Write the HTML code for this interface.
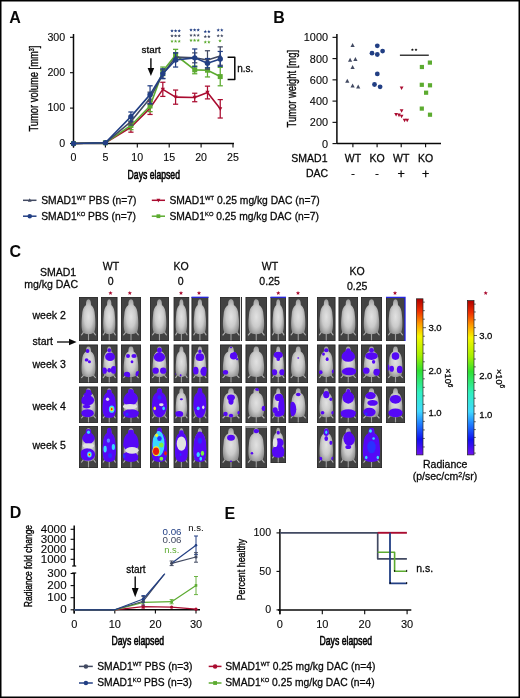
<!DOCTYPE html><html><head><meta charset="utf-8"><style>html,body{margin:0;padding:0;background:#fff;}svg{display:block;will-change:transform;}</style></head><body>
<svg width="520" height="698" viewBox="0 0 520 698" font-family="Liberation Sans, sans-serif">
<rect x="0" y="0" width="520" height="698" fill="#fff"/>
<text x="9.2" y="22.8" font-size="16" text-anchor="start" fill="#080808" font-weight="bold">A</text>
<text x="273.2" y="23.1" font-size="16" text-anchor="start" fill="#080808" font-weight="bold">B</text>
<text x="9.5" y="257.4" font-size="16" text-anchor="start" fill="#080808" font-weight="bold">C</text>
<text x="9.8" y="518.2" font-size="16" text-anchor="start" fill="#080808" font-weight="bold">D</text>
<text x="224.6" y="518.9" font-size="16" text-anchor="start" fill="#080808" font-weight="bold">E</text>
<line x1="73.5" y1="34" x2="73.5" y2="147.5" stroke="#080808" stroke-width="1.5"/>
<line x1="73.5" y1="143.5" x2="234" y2="143.5" stroke="#080808" stroke-width="1.5"/>
<line x1="70" y1="143.5" x2="73.5" y2="143.5" stroke="#080808" stroke-width="1.1"/>
<text transform="translate(65.20,146.75) scale(1.035,1)" font-size="10.3" text-anchor="end" fill="#080808" stroke="#080808" stroke-width="0.1">0</text>
<line x1="70" y1="108.1" x2="73.5" y2="108.1" stroke="#080808" stroke-width="1.1"/>
<text transform="translate(65.20,111.35) scale(1.035,1)" font-size="10.3" text-anchor="end" fill="#080808" stroke="#080808" stroke-width="0.1">100</text>
<line x1="70" y1="72.7" x2="73.5" y2="72.7" stroke="#080808" stroke-width="1.1"/>
<text transform="translate(65.20,75.95) scale(1.035,1)" font-size="10.3" text-anchor="end" fill="#080808" stroke="#080808" stroke-width="0.1">200</text>
<line x1="70" y1="37.30000000000001" x2="73.5" y2="37.30000000000001" stroke="#080808" stroke-width="1.1"/>
<text transform="translate(65.20,40.55) scale(1.035,1)" font-size="10.3" text-anchor="end" fill="#080808" stroke="#080808" stroke-width="0.1">300</text>
<line x1="73.5" y1="143.5" x2="73.5" y2="147.5" stroke="#080808" stroke-width="1.1"/>
<text transform="translate(73.50,161.45) scale(1.035,1)" font-size="10.3" text-anchor="middle" fill="#080808" stroke="#080808" stroke-width="0.1">0</text>
<line x1="105.4" y1="143.5" x2="105.4" y2="147.5" stroke="#080808" stroke-width="1.1"/>
<text transform="translate(105.40,161.45) scale(1.035,1)" font-size="10.3" text-anchor="middle" fill="#080808" stroke="#080808" stroke-width="0.1">5</text>
<line x1="137.3" y1="143.5" x2="137.3" y2="147.5" stroke="#080808" stroke-width="1.1"/>
<text transform="translate(137.30,161.45) scale(1.035,1)" font-size="10.3" text-anchor="middle" fill="#080808" stroke="#080808" stroke-width="0.1">10</text>
<line x1="169.2" y1="143.5" x2="169.2" y2="147.5" stroke="#080808" stroke-width="1.1"/>
<text transform="translate(169.20,161.45) scale(1.035,1)" font-size="10.3" text-anchor="middle" fill="#080808" stroke="#080808" stroke-width="0.1">15</text>
<line x1="201.1" y1="143.5" x2="201.1" y2="147.5" stroke="#080808" stroke-width="1.1"/>
<text transform="translate(201.10,161.45) scale(1.035,1)" font-size="10.3" text-anchor="middle" fill="#080808" stroke="#080808" stroke-width="0.1">20</text>
<line x1="233.0" y1="143.5" x2="233.0" y2="147.5" stroke="#080808" stroke-width="1.1"/>
<text transform="translate(233.00,161.45) scale(1.035,1)" font-size="10.3" text-anchor="middle" fill="#080808" stroke="#080808" stroke-width="0.1">25</text>
<text x="127.6" y="178.9" font-size="12.4" text-anchor="start" fill="#080808" textLength="52.4" lengthAdjust="spacingAndGlyphs" stroke="#000" stroke-width="0.6">Days elapsed</text>
<text transform="translate(38.3,131.5) rotate(-90)" font-size="12.4" fill="#080808" stroke="#000" stroke-width="0.35" textLength="85.8" lengthAdjust="spacingAndGlyphs">Tumor volume [mm<tspan font-size="7" dy="-4">3</tspan><tspan dy="4">]</tspan></text>
<line x1="130.92000000000002" y1="122.26" x2="130.92000000000002" y2="132.172" stroke="#aa0c30" stroke-width="1.25"/>
<line x1="128.32000000000002" y1="122.26" x2="133.52" y2="122.26" stroke="#aa0c30" stroke-width="1.25"/>
<line x1="128.32000000000002" y1="132.172" x2="133.52" y2="132.172" stroke="#aa0c30" stroke-width="1.25"/>
<line x1="150.06" y1="101.72800000000001" x2="150.06" y2="114.47200000000001" stroke="#aa0c30" stroke-width="1.25"/>
<line x1="147.46" y1="101.72800000000001" x2="152.66" y2="101.72800000000001" stroke="#aa0c30" stroke-width="1.25"/>
<line x1="147.46" y1="114.47200000000001" x2="152.66" y2="114.47200000000001" stroke="#aa0c30" stroke-width="1.25"/>
<line x1="162.82" y1="82.25800000000001" x2="162.82" y2="96.418" stroke="#aa0c30" stroke-width="1.25"/>
<line x1="160.22" y1="82.25800000000001" x2="165.42" y2="82.25800000000001" stroke="#aa0c30" stroke-width="1.25"/>
<line x1="160.22" y1="96.418" x2="165.42" y2="96.418" stroke="#aa0c30" stroke-width="1.25"/>
<line x1="175.57999999999998" y1="90.04599999999999" x2="175.57999999999998" y2="104.206" stroke="#aa0c30" stroke-width="1.25"/>
<line x1="172.98" y1="90.04599999999999" x2="178.17999999999998" y2="90.04599999999999" stroke="#aa0c30" stroke-width="1.25"/>
<line x1="172.98" y1="104.206" x2="178.17999999999998" y2="104.206" stroke="#aa0c30" stroke-width="1.25"/>
<line x1="194.72" y1="93.232" x2="194.72" y2="101.72800000000001" stroke="#aa0c30" stroke-width="1.25"/>
<line x1="192.12" y1="93.232" x2="197.32" y2="93.232" stroke="#aa0c30" stroke-width="1.25"/>
<line x1="192.12" y1="101.72800000000001" x2="197.32" y2="101.72800000000001" stroke="#aa0c30" stroke-width="1.25"/>
<line x1="207.48" y1="86.152" x2="207.48" y2="98.896" stroke="#aa0c30" stroke-width="1.25"/>
<line x1="204.88" y1="86.152" x2="210.07999999999998" y2="86.152" stroke="#aa0c30" stroke-width="1.25"/>
<line x1="204.88" y1="98.896" x2="210.07999999999998" y2="98.896" stroke="#aa0c30" stroke-width="1.25"/>
<line x1="220.24" y1="99.604" x2="220.24" y2="118.012" stroke="#aa0c30" stroke-width="1.25"/>
<line x1="217.64000000000001" y1="99.604" x2="222.84" y2="99.604" stroke="#aa0c30" stroke-width="1.25"/>
<line x1="217.64000000000001" y1="118.012" x2="222.84" y2="118.012" stroke="#aa0c30" stroke-width="1.25"/>
<polyline points="73.50,143.50 105.40,142.79 130.92,127.22 150.06,108.10 162.82,89.34 175.58,97.13 194.72,97.48 207.48,92.52 220.24,108.81" fill="none" stroke="#aa0c30" stroke-width="1.6" stroke-linejoin="round"/>
<polygon points="73.50,145.81 71.40,141.82 75.60,141.82" fill="#aa0c30"/>
<polygon points="105.40,145.10 103.30,141.11 107.50,141.11" fill="#aa0c30"/>
<polygon points="130.92,129.53 128.82,125.54 133.02,125.54" fill="#aa0c30"/>
<polygon points="150.06,110.41 147.96,106.42 152.16,106.42" fill="#aa0c30"/>
<polygon points="162.82,91.65 160.72,87.66 164.92,87.66" fill="#aa0c30"/>
<polygon points="175.58,99.44 173.48,95.45 177.68,95.45" fill="#aa0c30"/>
<polygon points="194.72,99.79 192.62,95.80 196.82,95.80" fill="#aa0c30"/>
<polygon points="207.48,94.83 205.38,90.84 209.58,90.84" fill="#aa0c30"/>
<polygon points="220.24,111.12 218.14,107.13 222.34,107.13" fill="#aa0c30"/>
<line x1="130.92000000000002" y1="121.19800000000001" x2="130.92000000000002" y2="129.694" stroke="#5cab30" stroke-width="1.25"/>
<line x1="128.32000000000002" y1="121.19800000000001" x2="133.52" y2="121.19800000000001" stroke="#5cab30" stroke-width="1.25"/>
<line x1="128.32000000000002" y1="129.694" x2="133.52" y2="129.694" stroke="#5cab30" stroke-width="1.25"/>
<line x1="150.06" y1="100.31200000000001" x2="150.06" y2="111.64" stroke="#5cab30" stroke-width="1.25"/>
<line x1="147.46" y1="100.31200000000001" x2="152.66" y2="100.31200000000001" stroke="#5cab30" stroke-width="1.25"/>
<line x1="147.46" y1="111.64" x2="152.66" y2="111.64" stroke="#5cab30" stroke-width="1.25"/>
<line x1="162.82" y1="67.036" x2="162.82" y2="75.53200000000001" stroke="#5cab30" stroke-width="1.25"/>
<line x1="160.22" y1="67.036" x2="165.42" y2="67.036" stroke="#5cab30" stroke-width="1.25"/>
<line x1="160.22" y1="75.53200000000001" x2="165.42" y2="75.53200000000001" stroke="#5cab30" stroke-width="1.25"/>
<line x1="175.57999999999998" y1="49.336" x2="175.57999999999998" y2="60.664" stroke="#5cab30" stroke-width="1.25"/>
<line x1="172.98" y1="49.336" x2="178.17999999999998" y2="49.336" stroke="#5cab30" stroke-width="1.25"/>
<line x1="172.98" y1="60.664" x2="178.17999999999998" y2="60.664" stroke="#5cab30" stroke-width="1.25"/>
<line x1="194.72" y1="65.974" x2="194.72" y2="73.762" stroke="#5cab30" stroke-width="1.25"/>
<line x1="192.12" y1="65.974" x2="197.32" y2="65.974" stroke="#5cab30" stroke-width="1.25"/>
<line x1="192.12" y1="73.762" x2="197.32" y2="73.762" stroke="#5cab30" stroke-width="1.25"/>
<line x1="207.48" y1="63.49600000000001" x2="207.48" y2="76.94800000000001" stroke="#5cab30" stroke-width="1.25"/>
<line x1="204.88" y1="63.49600000000001" x2="210.07999999999998" y2="63.49600000000001" stroke="#5cab30" stroke-width="1.25"/>
<line x1="204.88" y1="76.94800000000001" x2="210.07999999999998" y2="76.94800000000001" stroke="#5cab30" stroke-width="1.25"/>
<line x1="220.24" y1="67.39" x2="220.24" y2="85.798" stroke="#5cab30" stroke-width="1.25"/>
<line x1="217.64000000000001" y1="67.39" x2="222.84" y2="67.39" stroke="#5cab30" stroke-width="1.25"/>
<line x1="217.64000000000001" y1="85.798" x2="222.84" y2="85.798" stroke="#5cab30" stroke-width="1.25"/>
<polyline points="73.50,143.50 105.40,142.79 130.92,125.45 150.06,105.98 162.82,71.28 175.58,55.00 194.72,69.87 207.48,70.22 220.24,76.59" fill="none" stroke="#5cab30" stroke-width="1.6" stroke-linejoin="round"/>
<rect x="71.00" y="141.00" width="5.00" height="5.00" fill="#5cab30"/>
<rect x="102.90" y="140.29" width="5.00" height="5.00" fill="#5cab30"/>
<rect x="128.42" y="122.95" width="5.00" height="5.00" fill="#5cab30"/>
<rect x="147.56" y="103.48" width="5.00" height="5.00" fill="#5cab30"/>
<rect x="160.32" y="68.78" width="5.00" height="5.00" fill="#5cab30"/>
<rect x="173.08" y="52.50" width="5.00" height="5.00" fill="#5cab30"/>
<rect x="192.22" y="67.37" width="5.00" height="5.00" fill="#5cab30"/>
<rect x="204.98" y="67.72" width="5.00" height="5.00" fill="#5cab30"/>
<rect x="217.74" y="74.09" width="5.00" height="5.00" fill="#5cab30"/>
<line x1="130.92000000000002" y1="118.012" x2="130.92000000000002" y2="125.092" stroke="#424a62" stroke-width="1.25"/>
<line x1="128.32000000000002" y1="118.012" x2="133.52" y2="118.012" stroke="#424a62" stroke-width="1.25"/>
<line x1="128.32000000000002" y1="125.092" x2="133.52" y2="125.092" stroke="#424a62" stroke-width="1.25"/>
<line x1="150.06" y1="92.17" x2="150.06" y2="104.206" stroke="#424a62" stroke-width="1.25"/>
<line x1="147.46" y1="92.17" x2="152.66" y2="92.17" stroke="#424a62" stroke-width="1.25"/>
<line x1="147.46" y1="104.206" x2="152.66" y2="104.206" stroke="#424a62" stroke-width="1.25"/>
<line x1="162.82" y1="69.86800000000001" x2="162.82" y2="78.364" stroke="#424a62" stroke-width="1.25"/>
<line x1="160.22" y1="69.86800000000001" x2="165.42" y2="69.86800000000001" stroke="#424a62" stroke-width="1.25"/>
<line x1="160.22" y1="78.364" x2="165.42" y2="78.364" stroke="#424a62" stroke-width="1.25"/>
<line x1="175.57999999999998" y1="52.876000000000005" x2="175.57999999999998" y2="61.372" stroke="#424a62" stroke-width="1.25"/>
<line x1="172.98" y1="52.876000000000005" x2="178.17999999999998" y2="52.876000000000005" stroke="#424a62" stroke-width="1.25"/>
<line x1="172.98" y1="61.372" x2="178.17999999999998" y2="61.372" stroke="#424a62" stroke-width="1.25"/>
<line x1="194.72" y1="52.876000000000005" x2="194.72" y2="62.78800000000001" stroke="#424a62" stroke-width="1.25"/>
<line x1="192.12" y1="52.876000000000005" x2="197.32" y2="52.876000000000005" stroke="#424a62" stroke-width="1.25"/>
<line x1="192.12" y1="62.78800000000001" x2="197.32" y2="62.78800000000001" stroke="#424a62" stroke-width="1.25"/>
<line x1="207.48" y1="50.75200000000001" x2="207.48" y2="69.16000000000001" stroke="#424a62" stroke-width="1.25"/>
<line x1="204.88" y1="50.75200000000001" x2="210.07999999999998" y2="50.75200000000001" stroke="#424a62" stroke-width="1.25"/>
<line x1="204.88" y1="69.16000000000001" x2="210.07999999999998" y2="69.16000000000001" stroke="#424a62" stroke-width="1.25"/>
<line x1="220.24" y1="46.858000000000004" x2="220.24" y2="65.266" stroke="#424a62" stroke-width="1.25"/>
<line x1="217.64000000000001" y1="46.858000000000004" x2="222.84" y2="46.858000000000004" stroke="#424a62" stroke-width="1.25"/>
<line x1="217.64000000000001" y1="65.266" x2="222.84" y2="65.266" stroke="#424a62" stroke-width="1.25"/>
<polyline points="73.50,143.50 105.40,142.79 130.92,121.55 150.06,98.19 162.82,74.12 175.58,57.12 194.72,57.83 207.48,59.96 220.24,56.06" fill="none" stroke="#424a62" stroke-width="1.6" stroke-linejoin="round"/>
<polygon points="73.50,141.19 71.40,145.18 75.60,145.18" fill="#424a62"/>
<polygon points="105.40,140.48 103.30,144.47 107.50,144.47" fill="#424a62"/>
<polygon points="130.92,119.24 128.82,123.23 133.02,123.23" fill="#424a62"/>
<polygon points="150.06,95.88 147.96,99.87 152.16,99.87" fill="#424a62"/>
<polygon points="162.82,71.81 160.72,75.80 164.92,75.80" fill="#424a62"/>
<polygon points="175.58,54.81 173.48,58.80 177.68,58.80" fill="#424a62"/>
<polygon points="194.72,55.52 192.62,59.51 196.82,59.51" fill="#424a62"/>
<polygon points="207.48,57.65 205.38,61.64 209.58,61.64" fill="#424a62"/>
<polygon points="220.24,53.75 218.14,57.74 222.34,57.74" fill="#424a62"/>
<line x1="130.92000000000002" y1="111.994" x2="130.92000000000002" y2="121.19800000000001" stroke="#223f84" stroke-width="1.25"/>
<line x1="128.32000000000002" y1="111.994" x2="133.52" y2="111.994" stroke="#223f84" stroke-width="1.25"/>
<line x1="128.32000000000002" y1="121.19800000000001" x2="133.52" y2="121.19800000000001" stroke="#223f84" stroke-width="1.25"/>
<line x1="150.06" y1="85.798" x2="150.06" y2="103.498" stroke="#223f84" stroke-width="1.25"/>
<line x1="147.46" y1="85.798" x2="152.66" y2="85.798" stroke="#223f84" stroke-width="1.25"/>
<line x1="147.46" y1="103.498" x2="152.66" y2="103.498" stroke="#223f84" stroke-width="1.25"/>
<line x1="162.82" y1="68.806" x2="162.82" y2="78.718" stroke="#223f84" stroke-width="1.25"/>
<line x1="160.22" y1="68.806" x2="165.42" y2="68.806" stroke="#223f84" stroke-width="1.25"/>
<line x1="160.22" y1="78.718" x2="165.42" y2="78.718" stroke="#223f84" stroke-width="1.25"/>
<line x1="175.57999999999998" y1="52.876000000000005" x2="175.57999999999998" y2="67.036" stroke="#223f84" stroke-width="1.25"/>
<line x1="172.98" y1="52.876000000000005" x2="178.17999999999998" y2="52.876000000000005" stroke="#223f84" stroke-width="1.25"/>
<line x1="172.98" y1="67.036" x2="178.17999999999998" y2="67.036" stroke="#223f84" stroke-width="1.25"/>
<line x1="194.72" y1="48.982" x2="194.72" y2="66.682" stroke="#223f84" stroke-width="1.25"/>
<line x1="192.12" y1="48.982" x2="197.32" y2="48.982" stroke="#223f84" stroke-width="1.25"/>
<line x1="192.12" y1="66.682" x2="197.32" y2="66.682" stroke="#223f84" stroke-width="1.25"/>
<line x1="207.48" y1="58.540000000000006" x2="207.48" y2="67.744" stroke="#223f84" stroke-width="1.25"/>
<line x1="204.88" y1="58.540000000000006" x2="210.07999999999998" y2="58.540000000000006" stroke="#223f84" stroke-width="1.25"/>
<line x1="204.88" y1="67.744" x2="210.07999999999998" y2="67.744" stroke="#223f84" stroke-width="1.25"/>
<line x1="220.24" y1="51.46000000000001" x2="220.24" y2="66.328" stroke="#223f84" stroke-width="1.25"/>
<line x1="217.64000000000001" y1="51.46000000000001" x2="222.84" y2="51.46000000000001" stroke="#223f84" stroke-width="1.25"/>
<line x1="217.64000000000001" y1="66.328" x2="222.84" y2="66.328" stroke="#223f84" stroke-width="1.25"/>
<polyline points="73.50,143.50 105.40,142.79 130.92,116.60 150.06,94.65 162.82,73.76 175.58,59.96 194.72,57.83 207.48,63.14 220.24,58.89" fill="none" stroke="#223f84" stroke-width="1.6" stroke-linejoin="round"/>
<circle cx="73.50" cy="143.50" r="2.7" fill="#223f84"/>
<circle cx="105.40" cy="142.79" r="2.7" fill="#223f84"/>
<circle cx="130.92" cy="116.60" r="2.7" fill="#223f84"/>
<circle cx="150.06" cy="94.65" r="2.7" fill="#223f84"/>
<circle cx="162.82" cy="73.76" r="2.7" fill="#223f84"/>
<circle cx="175.58" cy="59.96" r="2.7" fill="#223f84"/>
<circle cx="194.72" cy="57.83" r="2.7" fill="#223f84"/>
<circle cx="207.48" cy="63.14" r="2.7" fill="#223f84"/>
<circle cx="220.24" cy="58.89" r="2.7" fill="#223f84"/>
<polygon points="172.00,29.10 172.48,30.24 173.71,30.34 172.77,31.15 173.06,32.36 172.00,31.71 170.94,32.36 171.23,31.15 170.29,30.34 171.52,30.24" fill="#223f84"/>
<polygon points="175.60,29.10 176.08,30.24 177.31,30.34 176.37,31.15 176.66,32.36 175.60,31.71 174.54,32.36 174.83,31.15 173.89,30.34 175.12,30.24" fill="#223f84"/>
<polygon points="179.20,29.10 179.68,30.24 180.91,30.34 179.97,31.15 180.26,32.36 179.20,31.71 178.14,32.36 178.43,31.15 177.49,30.34 178.72,30.24" fill="#223f84"/>
<polygon points="172.00,34.10 172.48,35.24 173.71,35.34 172.77,36.15 173.06,37.36 172.00,36.71 170.94,37.36 171.23,36.15 170.29,35.34 171.52,35.24" fill="#424a62"/>
<polygon points="175.60,34.10 176.08,35.24 177.31,35.34 176.37,36.15 176.66,37.36 175.60,36.71 174.54,37.36 174.83,36.15 173.89,35.34 175.12,35.24" fill="#424a62"/>
<polygon points="179.20,34.10 179.68,35.24 180.91,35.34 179.97,36.15 180.26,37.36 179.20,36.71 178.14,37.36 178.43,36.15 177.49,35.34 178.72,35.24" fill="#424a62"/>
<polygon points="172.00,39.50 172.48,40.64 173.71,40.74 172.77,41.55 173.06,42.76 172.00,42.11 170.94,42.76 171.23,41.55 170.29,40.74 171.52,40.64" fill="#5cab30"/>
<polygon points="175.60,39.50 176.08,40.64 177.31,40.74 176.37,41.55 176.66,42.76 175.60,42.11 174.54,42.76 174.83,41.55 173.89,40.74 175.12,40.64" fill="#5cab30"/>
<polygon points="179.20,39.50 179.68,40.64 180.91,40.74 179.97,41.55 180.26,42.76 179.20,42.11 178.14,42.76 178.43,41.55 177.49,40.74 178.72,40.64" fill="#5cab30"/>
<polygon points="191.00,28.20 191.48,29.34 192.71,29.44 191.77,30.25 192.06,31.46 191.00,30.81 189.94,31.46 190.23,30.25 189.29,29.44 190.52,29.34" fill="#223f84"/>
<polygon points="194.60,28.20 195.08,29.34 196.31,29.44 195.37,30.25 195.66,31.46 194.60,30.81 193.54,31.46 193.83,30.25 192.89,29.44 194.12,29.34" fill="#223f84"/>
<polygon points="198.20,28.20 198.68,29.34 199.91,29.44 198.97,30.25 199.26,31.46 198.20,30.81 197.14,31.46 197.43,30.25 196.49,29.44 197.72,29.34" fill="#223f84"/>
<polygon points="191.00,33.50 191.48,34.64 192.71,34.74 191.77,35.55 192.06,36.76 191.00,36.11 189.94,36.76 190.23,35.55 189.29,34.74 190.52,34.64" fill="#424a62"/>
<polygon points="194.60,33.50 195.08,34.64 196.31,34.74 195.37,35.55 195.66,36.76 194.60,36.11 193.54,36.76 193.83,35.55 192.89,34.74 194.12,34.64" fill="#424a62"/>
<polygon points="198.20,33.50 198.68,34.64 199.91,34.74 198.97,35.55 199.26,36.76 198.20,36.11 197.14,36.76 197.43,35.55 196.49,34.74 197.72,34.64" fill="#424a62"/>
<polygon points="191.00,38.60 191.48,39.74 192.71,39.84 191.77,40.65 192.06,41.86 191.00,41.21 189.94,41.86 190.23,40.65 189.29,39.84 190.52,39.74" fill="#5cab30"/>
<polygon points="194.60,38.60 195.08,39.74 196.31,39.84 195.37,40.65 195.66,41.86 194.60,41.21 193.54,41.86 193.83,40.65 192.89,39.84 194.12,39.74" fill="#5cab30"/>
<polygon points="198.20,38.60 198.68,39.74 199.91,39.84 198.97,40.65 199.26,41.86 198.20,41.21 197.14,41.86 197.43,40.65 196.49,39.84 197.72,39.74" fill="#5cab30"/>
<polygon points="205.30,29.80 205.78,30.94 207.01,31.04 206.07,31.85 206.36,33.06 205.30,32.41 204.24,33.06 204.53,31.85 203.59,31.04 204.82,30.94" fill="#223f84"/>
<polygon points="208.90,29.80 209.38,30.94 210.61,31.04 209.67,31.85 209.96,33.06 208.90,32.41 207.84,33.06 208.13,31.85 207.19,31.04 208.42,30.94" fill="#223f84"/>
<polygon points="205.30,34.80 205.78,35.94 207.01,36.04 206.07,36.85 206.36,38.06 205.30,37.41 204.24,38.06 204.53,36.85 203.59,36.04 204.82,35.94" fill="#424a62"/>
<polygon points="208.90,34.80 209.38,35.94 210.61,36.04 209.67,36.85 209.96,38.06 208.90,37.41 207.84,38.06 208.13,36.85 207.19,36.04 208.42,35.94" fill="#424a62"/>
<polygon points="205.30,40.30 205.78,41.44 207.01,41.54 206.07,42.35 206.36,43.56 205.30,42.91 204.24,43.56 204.53,42.35 203.59,41.54 204.82,41.44" fill="#5cab30"/>
<polygon points="208.90,40.30 209.38,41.44 210.61,41.54 209.67,42.35 209.96,43.56 208.90,42.91 207.84,43.56 208.13,42.35 207.19,41.54 208.42,41.44" fill="#5cab30"/>
<polygon points="218.20,28.30 218.68,29.44 219.91,29.54 218.97,30.35 219.26,31.56 218.20,30.91 217.14,31.56 217.43,30.35 216.49,29.54 217.72,29.44" fill="#223f84"/>
<polygon points="221.80,28.30 222.28,29.44 223.51,29.54 222.57,30.35 222.86,31.56 221.80,30.91 220.74,31.56 221.03,30.35 220.09,29.54 221.32,29.44" fill="#223f84"/>
<polygon points="218.20,34.00 218.68,35.14 219.91,35.24 218.97,36.05 219.26,37.26 218.20,36.61 217.14,37.26 217.43,36.05 216.49,35.24 217.72,35.14" fill="#424a62"/>
<polygon points="221.80,34.00 222.28,35.14 223.51,35.24 222.57,36.05 222.86,37.26 221.80,36.61 220.74,37.26 221.03,36.05 220.09,35.24 221.32,35.14" fill="#424a62"/>
<polygon points="220.00,39.10 220.48,40.24 221.71,40.34 220.77,41.15 221.06,42.36 220.00,41.71 218.94,42.36 219.23,41.15 218.29,40.34 219.52,40.24" fill="#5cab30"/>
<polyline points="227.60,57.30 234.80,57.30 234.80,79.50 227.60,79.50" fill="none" stroke="#080808" stroke-width="1.5" stroke-linejoin="round"/>
<text x="237.2" y="71.5" font-size="10" text-anchor="start" fill="#080808" stroke="#080808" stroke-width="0.28">n.s.</text>
<text x="141.6" y="53.4" font-size="9.8" text-anchor="start" fill="#080808" stroke="#080808" stroke-width="0.28">start</text>
<line x1="150.9" y1="58.2" x2="150.9" y2="69" stroke="#080808" stroke-width="1.4"/>
<polygon points="147.6,68 154.2,68 150.9,76" fill="#080808"/>
<line x1="23" y1="200.3" x2="36.5" y2="200.3" stroke="#424a62" stroke-width="1.5"/>
<polygon points="29.75,198.21 27.85,201.82 31.65,201.82" fill="#424a62"/>
<text transform="translate(41.2,203.5) scale(1,1.07)" font-size="10.3" fill="#080808" stroke="#080808" stroke-width="0.28">SMAD1<tspan font-size="5.8" dy="-3.1" dx="0.2">WT</tspan><tspan dy="3.1"> PBS (n=7)</tspan></text>
<line x1="23" y1="216.2" x2="36.5" y2="216.2" stroke="#223f84" stroke-width="1.5"/>
<circle cx="29.75" cy="216.20" r="2.25" fill="#223f84"/>
<text transform="translate(41.2,219.8) scale(1,1.07)" font-size="10.3" fill="#080808" stroke="#080808" stroke-width="0.28">SMAD1<tspan font-size="5.8" dy="-3.1" dx="0.2">KO</tspan><tspan dy="3.1"> PBS (n=7)</tspan></text>
<line x1="151.8" y1="200.3" x2="165.0" y2="200.3" stroke="#aa0c30" stroke-width="1.5"/>
<polygon points="158.40,202.39 156.50,198.78 160.30,198.78" fill="#aa0c30"/>
<text transform="translate(169.4,203.5) scale(1,1.07)" font-size="10.3" fill="#080808" stroke="#080808" stroke-width="0.28">SMAD1<tspan font-size="5.8" dy="-3.1" dx="0.2">WT</tspan><tspan dy="3.1"> 0.25 mg/kg DAC (n=7)</tspan></text>
<line x1="151.8" y1="216.2" x2="165.0" y2="216.2" stroke="#5cab30" stroke-width="1.5"/>
<rect x="156.50" y="214.30" width="3.80" height="3.80" fill="#5cab30"/>
<text transform="translate(169.4,219.8) scale(1,1.07)" font-size="10.3" fill="#080808" stroke="#080808" stroke-width="0.28">SMAD1<tspan font-size="5.8" dy="-3.1" dx="0.2">KO</tspan><tspan dy="3.1"> 0.25 mg/kg DAC (n=7)</tspan></text>
<line x1="336.9" y1="34" x2="336.9" y2="143.6" stroke="#080808" stroke-width="1.5"/>
<line x1="336.9" y1="143.6" x2="441" y2="143.6" stroke="#080808" stroke-width="1.5"/>
<line x1="332.5" y1="143.6" x2="336.9" y2="143.6" stroke="#080808" stroke-width="1.1"/>
<text transform="translate(328.00,147.65) scale(1.056,1)" font-size="10.3" text-anchor="end" fill="#080808" stroke="#080808" stroke-width="0.1">0</text>
<line x1="332.5" y1="122.35" x2="336.9" y2="122.35" stroke="#080808" stroke-width="1.1"/>
<text transform="translate(328.00,126.40) scale(1.056,1)" font-size="10.3" text-anchor="end" fill="#080808" stroke="#080808" stroke-width="0.1">200</text>
<line x1="332.5" y1="101.1" x2="336.9" y2="101.1" stroke="#080808" stroke-width="1.1"/>
<text transform="translate(328.00,105.15) scale(1.056,1)" font-size="10.3" text-anchor="end" fill="#080808" stroke="#080808" stroke-width="0.1">400</text>
<line x1="332.5" y1="79.85" x2="336.9" y2="79.85" stroke="#080808" stroke-width="1.1"/>
<text transform="translate(328.00,83.90) scale(1.056,1)" font-size="10.3" text-anchor="end" fill="#080808" stroke="#080808" stroke-width="0.1">600</text>
<line x1="332.5" y1="58.599999999999994" x2="336.9" y2="58.599999999999994" stroke="#080808" stroke-width="1.1"/>
<text transform="translate(328.00,62.65) scale(1.056,1)" font-size="10.3" text-anchor="end" fill="#080808" stroke="#080808" stroke-width="0.1">800</text>
<line x1="332.5" y1="37.349999999999994" x2="336.9" y2="37.349999999999994" stroke="#080808" stroke-width="1.1"/>
<text transform="translate(328.00,41.40) scale(1.056,1)" font-size="10.3" text-anchor="end" fill="#080808" stroke="#080808" stroke-width="0.1">1000</text>
<line x1="352.9" y1="143.6" x2="352.9" y2="147.2" stroke="#080808" stroke-width="1.1"/>
<line x1="377.1" y1="143.6" x2="377.1" y2="147.2" stroke="#080808" stroke-width="1.1"/>
<line x1="401.2" y1="143.6" x2="401.2" y2="147.2" stroke="#080808" stroke-width="1.1"/>
<line x1="425.6" y1="143.6" x2="425.6" y2="147.2" stroke="#080808" stroke-width="1.1"/>
<text x="298.6" y="127.5" font-size="12" text-anchor="start" fill="#080808" stroke="#080808" stroke-width="0.28"></text>
<text transform="translate(295.8,127.4) rotate(-90)" font-size="13.2" fill="#080808" stroke="#000" stroke-width="0.35" textLength="77.4" lengthAdjust="spacingAndGlyphs">Tumor weight [mg]</text>
<text x="291.3" y="161.5" font-size="10.5" text-anchor="start" fill="#080808" stroke="#080808" stroke-width="0.28">SMAD1</text>
<text x="352.9" y="161.5" font-size="10.5" text-anchor="middle" fill="#080808" stroke="#080808" stroke-width="0.28">WT</text>
<text x="377.1" y="161.5" font-size="10.5" text-anchor="middle" fill="#080808" stroke="#080808" stroke-width="0.28">KO</text>
<text x="401.2" y="161.5" font-size="10.5" text-anchor="middle" fill="#080808" stroke="#080808" stroke-width="0.28">WT</text>
<text x="425.6" y="161.5" font-size="10.5" text-anchor="middle" fill="#080808" stroke="#080808" stroke-width="0.28">KO</text>
<text x="305.9" y="177.2" font-size="10.5" text-anchor="start" fill="#080808" stroke="#080808" stroke-width="0.28">DAC</text>
<text x="352.9" y="177.2" font-size="10.5" text-anchor="middle" fill="#080808" stroke="#080808" stroke-width="0.28">-</text>
<text x="377.1" y="177.2" font-size="10.5" text-anchor="middle" fill="#080808" stroke="#080808" stroke-width="0.28">-</text>
<text x="401.2" y="177.9" font-size="12.5" text-anchor="middle" fill="#080808" stroke="#080808" stroke-width="0.28">+</text>
<text x="425.6" y="177.9" font-size="12.5" text-anchor="middle" fill="#080808" stroke="#080808" stroke-width="0.28">+</text>
<polygon points="352.60,42.99 350.50,46.98 354.70,46.98" fill="#424a62"/>
<polygon points="350.10,57.79 348.00,61.78 352.20,61.78" fill="#424a62"/>
<polygon points="355.40,56.89 353.30,60.88 357.50,60.88" fill="#424a62"/>
<polygon points="352.60,64.89 350.50,68.88 354.70,68.88" fill="#424a62"/>
<polygon points="347.30,78.79 345.20,82.78 349.40,82.78" fill="#424a62"/>
<polygon points="352.60,83.39 350.50,87.38 354.70,87.38" fill="#424a62"/>
<polygon points="358.20,84.49 356.10,88.48 360.30,88.48" fill="#424a62"/>
<circle cx="377.30" cy="45.80" r="2.4" fill="#223f84"/>
<circle cx="372.00" cy="53.20" r="2.4" fill="#223f84"/>
<circle cx="377.30" cy="54.50" r="2.4" fill="#223f84"/>
<circle cx="382.60" cy="51.10" r="2.4" fill="#223f84"/>
<circle cx="377.30" cy="73.90" r="2.4" fill="#223f84"/>
<circle cx="374.50" cy="84.50" r="2.4" fill="#223f84"/>
<circle cx="380.10" cy="86.80" r="2.4" fill="#223f84"/>
<polygon points="401.60,89.99 399.70,86.38 403.50,86.38" fill="#aa0c30"/>
<polygon points="401.60,112.79 399.70,109.18 403.50,109.18" fill="#aa0c30"/>
<polygon points="396.10,116.49 394.20,112.88 398.00,112.88" fill="#aa0c30"/>
<polygon points="399.00,117.19 397.10,113.58 400.90,113.58" fill="#aa0c30"/>
<polygon points="401.60,118.29 399.70,114.68 403.50,114.68" fill="#aa0c30"/>
<polygon points="404.60,122.29 402.70,118.68 406.50,118.68" fill="#aa0c30"/>
<polygon points="407.20,122.29 405.30,118.68 409.10,118.68" fill="#aa0c30"/>
<rect x="427.80" y="60.50" width="4.20" height="4.20" fill="#5cab30"/>
<rect x="419.80" y="64.90" width="4.20" height="4.20" fill="#5cab30"/>
<rect x="419.70" y="82.70" width="4.20" height="4.20" fill="#5cab30"/>
<rect x="427.90" y="83.20" width="4.20" height="4.20" fill="#5cab30"/>
<rect x="424.00" y="90.60" width="4.20" height="4.20" fill="#5cab30"/>
<rect x="419.70" y="106.50" width="4.20" height="4.20" fill="#5cab30"/>
<rect x="427.90" y="112.60" width="4.20" height="4.20" fill="#5cab30"/>
<line x1="399.9" y1="55.2" x2="428.8" y2="55.2" stroke="#080808" stroke-width="1.2"/>
<polygon points="412.40,48.20 412.82,49.22 413.92,49.31 413.08,50.02 413.34,51.09 412.40,50.52 411.46,51.09 411.72,50.02 410.88,49.31 411.98,49.22" fill="#080808"/>
<polygon points="416.00,48.20 416.42,49.22 417.52,49.31 416.68,50.02 416.94,51.09 416.00,50.52 415.06,51.09 415.32,50.02 414.48,49.31 415.58,49.22" fill="#080808"/>
<defs><radialGradient id="mb" cx="0.5" cy="0.5" r="0.55"><stop offset="0" stop-color="#e2e2e2"/><stop offset="0.55" stop-color="#cbcbcb"/><stop offset="1" stop-color="#939393"/></radialGradient></defs>
<rect x="79.45" y="297.45" width="18.10" height="43.10" fill="#424242" stroke="#282828" stroke-width="0.9"/>
<line x1="88.5" y1="332.2" x2="88.5" y2="340.4" stroke="#a0a0a0" stroke-width="1.1"/>
<line x1="84.13" y1="331.32" x2="81.28" y2="335.28" stroke="#b4b4b4" stroke-width="1.1"/>
<line x1="92.87" y1="331.32" x2="95.72" y2="335.28" stroke="#b4b4b4" stroke-width="1.1"/>
<path transform="translate(79.00,297.00) scale(19.000,44.000)" d="M0.5,0.05 C0.6,0.05 0.63,0.1 0.63,0.18 C0.77,0.22 0.83,0.3 0.84,0.42 C0.88,0.58 0.88,0.72 0.8,0.8 C0.66,0.86 0.34,0.86 0.2,0.8 C0.12,0.72 0.12,0.58 0.16,0.42 C0.17,0.3 0.23,0.22 0.37,0.18 C0.37,0.1 0.4,0.05 0.5,0.05 Z" fill="url(#mb)"/>
<rect x="101.45" y="297.45" width="15.60" height="43.10" fill="#424242" stroke="#282828" stroke-width="0.9"/>
<line x1="109.25" y1="332.2" x2="109.25" y2="340.4" stroke="#a0a0a0" stroke-width="1.1"/>
<line x1="105.455" y1="331.32" x2="102.98" y2="335.28" stroke="#b4b4b4" stroke-width="1.1"/>
<line x1="113.045" y1="331.32" x2="115.52" y2="335.28" stroke="#b4b4b4" stroke-width="1.1"/>
<path transform="translate(101.00,297.00) scale(16.500,44.000)" d="M0.5,0.05 C0.6,0.05 0.63,0.1 0.63,0.18 C0.77,0.22 0.83,0.3 0.84,0.42 C0.88,0.58 0.88,0.72 0.8,0.8 C0.66,0.86 0.34,0.86 0.2,0.8 C0.12,0.72 0.12,0.58 0.16,0.42 C0.17,0.3 0.23,0.22 0.37,0.18 C0.37,0.1 0.4,0.05 0.5,0.05 Z" fill="url(#mb)"/>
<rect x="121.45" y="297.45" width="19.10" height="43.10" fill="#424242" stroke="#282828" stroke-width="0.9"/>
<line x1="131.0" y1="332.2" x2="131.0" y2="340.4" stroke="#a0a0a0" stroke-width="1.1"/>
<line x1="126.4" y1="331.32" x2="123.4" y2="335.28" stroke="#b4b4b4" stroke-width="1.1"/>
<line x1="135.6" y1="331.32" x2="138.6" y2="335.28" stroke="#b4b4b4" stroke-width="1.1"/>
<path transform="translate(121.00,297.00) scale(20.000,44.000)" d="M0.5,0.05 C0.6,0.05 0.63,0.1 0.63,0.18 C0.77,0.22 0.83,0.3 0.84,0.42 C0.88,0.58 0.88,0.72 0.8,0.8 C0.66,0.86 0.34,0.86 0.2,0.8 C0.12,0.72 0.12,0.58 0.16,0.42 C0.17,0.3 0.23,0.22 0.37,0.18 C0.37,0.1 0.4,0.05 0.5,0.05 Z" fill="url(#mb)"/>
<rect x="79.45" y="344.95" width="18.10" height="37.60" fill="#424242" stroke="#282828" stroke-width="0.9"/>
<line x1="88.5" y1="375.3" x2="88.5" y2="382.4" stroke="#a0a0a0" stroke-width="1.1"/>
<line x1="84.13" y1="374.53" x2="81.28" y2="377.995" stroke="#b4b4b4" stroke-width="1.1"/>
<line x1="92.87" y1="374.53" x2="95.72" y2="377.995" stroke="#b4b4b4" stroke-width="1.1"/>
<path transform="translate(79.00,344.50) scale(19.000,38.500)" d="M0.5,0.05 C0.6,0.05 0.63,0.1 0.63,0.18 C0.77,0.22 0.83,0.3 0.84,0.42 C0.88,0.58 0.88,0.72 0.8,0.8 C0.66,0.86 0.34,0.86 0.2,0.8 C0.12,0.72 0.12,0.58 0.16,0.42 C0.17,0.3 0.23,0.22 0.37,0.18 C0.37,0.1 0.4,0.05 0.5,0.05 Z" fill="url(#mb)"/>
<clipPath id="mc1"><path transform="translate(77.86,343.73) scale(21.280,40.040)" d="M0.5,0.05 C0.6,0.05 0.63,0.1 0.63,0.18 C0.77,0.22 0.83,0.3 0.84,0.42 C0.88,0.58 0.88,0.72 0.8,0.8 C0.66,0.86 0.34,0.86 0.2,0.8 C0.12,0.72 0.12,0.58 0.16,0.42 C0.17,0.3 0.23,0.22 0.37,0.18 C0.37,0.1 0.4,0.05 0.5,0.05 Z"/></clipPath>
<g clip-path="url(#mc1)">
<ellipse cx="87.55" cy="351.05" rx="1.90" ry="1.93" fill="#5508f6"/>
<ellipse cx="86.60" cy="359.90" rx="1.90" ry="1.54" fill="#5508f6"/>
<ellipse cx="89.45" cy="361.82" rx="1.52" ry="1.54" fill="#5508f6"/>
</g>
<rect x="101.45" y="344.95" width="15.60" height="37.60" fill="#424242" stroke="#282828" stroke-width="0.9"/>
<line x1="109.25" y1="375.3" x2="109.25" y2="382.4" stroke="#a0a0a0" stroke-width="1.1"/>
<line x1="105.455" y1="374.53" x2="102.98" y2="377.995" stroke="#b4b4b4" stroke-width="1.1"/>
<line x1="113.045" y1="374.53" x2="115.52" y2="377.995" stroke="#b4b4b4" stroke-width="1.1"/>
<path transform="translate(101.00,344.50) scale(16.500,38.500)" d="M0.5,0.05 C0.6,0.05 0.63,0.1 0.63,0.18 C0.77,0.22 0.83,0.3 0.84,0.42 C0.88,0.58 0.88,0.72 0.8,0.8 C0.66,0.86 0.34,0.86 0.2,0.8 C0.12,0.72 0.12,0.58 0.16,0.42 C0.17,0.3 0.23,0.22 0.37,0.18 C0.37,0.1 0.4,0.05 0.5,0.05 Z" fill="url(#mb)"/>
<clipPath id="mc2"><path transform="translate(100.01,343.73) scale(18.480,40.040)" d="M0.5,0.05 C0.6,0.05 0.63,0.1 0.63,0.18 C0.77,0.22 0.83,0.3 0.84,0.42 C0.88,0.58 0.88,0.72 0.8,0.8 C0.66,0.86 0.34,0.86 0.2,0.8 C0.12,0.72 0.12,0.58 0.16,0.42 C0.17,0.3 0.23,0.22 0.37,0.18 C0.37,0.1 0.4,0.05 0.5,0.05 Z"/></clipPath>
<g clip-path="url(#mc2)">
<ellipse cx="109.25" cy="350.27" rx="1.98" ry="1.93" fill="#5508f6"/>
<ellipse cx="110.08" cy="356.82" rx="4.95" ry="4.24" fill="#5508f6"/>
<ellipse cx="104.30" cy="370.68" rx="2.64" ry="3.08" fill="#5508f6"/>
<ellipse cx="109.25" cy="370.30" rx="1.98" ry="2.31" fill="#5508f6"/>
<ellipse cx="113.87" cy="369.91" rx="2.97" ry="3.85" fill="#5508f6"/>
</g>
<rect x="121.45" y="344.95" width="19.10" height="37.60" fill="#424242" stroke="#282828" stroke-width="0.9"/>
<line x1="131.0" y1="375.3" x2="131.0" y2="382.4" stroke="#a0a0a0" stroke-width="1.1"/>
<line x1="126.4" y1="374.53" x2="123.4" y2="377.995" stroke="#b4b4b4" stroke-width="1.1"/>
<line x1="135.6" y1="374.53" x2="138.6" y2="377.995" stroke="#b4b4b4" stroke-width="1.1"/>
<path transform="translate(121.00,344.50) scale(20.000,38.500)" d="M0.5,0.05 C0.6,0.05 0.63,0.1 0.63,0.18 C0.77,0.22 0.83,0.3 0.84,0.42 C0.88,0.58 0.88,0.72 0.8,0.8 C0.66,0.86 0.34,0.86 0.2,0.8 C0.12,0.72 0.12,0.58 0.16,0.42 C0.17,0.3 0.23,0.22 0.37,0.18 C0.37,0.1 0.4,0.05 0.5,0.05 Z" fill="url(#mb)"/>
<clipPath id="mc3"><path transform="translate(119.80,343.73) scale(22.400,40.040)" d="M0.5,0.05 C0.6,0.05 0.63,0.1 0.63,0.18 C0.77,0.22 0.83,0.3 0.84,0.42 C0.88,0.58 0.88,0.72 0.8,0.8 C0.66,0.86 0.34,0.86 0.2,0.8 C0.12,0.72 0.12,0.58 0.16,0.42 C0.17,0.3 0.23,0.22 0.37,0.18 C0.37,0.1 0.4,0.05 0.5,0.05 Z"/></clipPath>
<g clip-path="url(#mc3)">
<ellipse cx="128.00" cy="356.05" rx="2.00" ry="1.93" fill="#5508f6"/>
<ellipse cx="134.00" cy="356.05" rx="2.60" ry="1.93" fill="#5508f6"/>
<ellipse cx="132.00" cy="361.82" rx="1.40" ry="1.54" fill="#5508f6"/>
<ellipse cx="127.00" cy="374.92" rx="3.20" ry="3.08" fill="#5508f6"/>
<ellipse cx="138.00" cy="374.14" rx="2.40" ry="3.08" fill="#5508f6"/>
</g>
<rect x="79.45" y="386.95" width="18.10" height="35.60" fill="#424242" stroke="#282828" stroke-width="0.9"/>
<line x1="88.5" y1="415.7" x2="88.5" y2="422.4" stroke="#a0a0a0" stroke-width="1.1"/>
<line x1="84.13" y1="414.97" x2="81.28" y2="418.255" stroke="#b4b4b4" stroke-width="1.1"/>
<line x1="92.87" y1="414.97" x2="95.72" y2="418.255" stroke="#b4b4b4" stroke-width="1.1"/>
<path transform="translate(79.00,386.50) scale(19.000,36.500)" d="M0.5,0.05 C0.6,0.05 0.63,0.1 0.63,0.18 C0.77,0.22 0.83,0.3 0.84,0.42 C0.88,0.58 0.88,0.72 0.8,0.8 C0.66,0.86 0.34,0.86 0.2,0.8 C0.12,0.72 0.12,0.58 0.16,0.42 C0.17,0.3 0.23,0.22 0.37,0.18 C0.37,0.1 0.4,0.05 0.5,0.05 Z" fill="url(#mb)"/>
<clipPath id="mc4"><path transform="translate(77.86,385.77) scale(21.280,37.960)" d="M0.5,0.05 C0.6,0.05 0.63,0.1 0.63,0.18 C0.77,0.22 0.83,0.3 0.84,0.42 C0.88,0.58 0.88,0.72 0.8,0.8 C0.66,0.86 0.34,0.86 0.2,0.8 C0.12,0.72 0.12,0.58 0.16,0.42 C0.17,0.3 0.23,0.22 0.37,0.18 C0.37,0.1 0.4,0.05 0.5,0.05 Z"/></clipPath>
<g clip-path="url(#mc4)">
<ellipse cx="87.55" cy="393.07" rx="4.75" ry="3.65" fill="#5508f6"/>
<ellipse cx="87.55" cy="400.37" rx="6.65" ry="5.11" fill="#5508f6"/>
<ellipse cx="87.55" cy="413.14" rx="6.27" ry="4.01" fill="#5508f6"/>
<ellipse cx="86.60" cy="406.57" rx="3.80" ry="1.83" fill="#5508f6"/>
</g>
<rect x="101.45" y="386.95" width="15.60" height="35.60" fill="#424242" stroke="#282828" stroke-width="0.9"/>
<line x1="109.25" y1="415.7" x2="109.25" y2="422.4" stroke="#a0a0a0" stroke-width="1.1"/>
<line x1="105.455" y1="414.97" x2="102.98" y2="418.255" stroke="#b4b4b4" stroke-width="1.1"/>
<line x1="113.045" y1="414.97" x2="115.52" y2="418.255" stroke="#b4b4b4" stroke-width="1.1"/>
<path transform="translate(101.00,386.50) scale(16.500,36.500)" d="M0.5,0.05 C0.6,0.05 0.63,0.1 0.63,0.18 C0.77,0.22 0.83,0.3 0.84,0.42 C0.88,0.58 0.88,0.72 0.8,0.8 C0.66,0.86 0.34,0.86 0.2,0.8 C0.12,0.72 0.12,0.58 0.16,0.42 C0.17,0.3 0.23,0.22 0.37,0.18 C0.37,0.1 0.4,0.05 0.5,0.05 Z" fill="url(#mb)"/>
<clipPath id="mc5"><path transform="translate(100.01,385.77) scale(18.480,37.960)" d="M0.5,0.05 C0.6,0.05 0.63,0.1 0.63,0.18 C0.77,0.22 0.83,0.3 0.84,0.42 C0.88,0.58 0.88,0.72 0.8,0.8 C0.66,0.86 0.34,0.86 0.2,0.8 C0.12,0.72 0.12,0.58 0.16,0.42 C0.17,0.3 0.23,0.22 0.37,0.18 C0.37,0.1 0.4,0.05 0.5,0.05 Z"/></clipPath>
<g clip-path="url(#mc5)">
<ellipse cx="109.25" cy="404.75" rx="7.42" ry="15.33" fill="#5508f6"/>
<ellipse cx="107.60" cy="399.27" rx="1.65" ry="1.83" fill="#e2e2e2"/>
<ellipse cx="111.72" cy="409.13" rx="2.81" ry="3.65" fill="#38d8ff"/>
<ellipse cx="111.72" cy="409.13" rx="1.65" ry="2.19" fill="#f2f21e"/>
<ellipse cx="111.72" cy="409.13" rx="0.83" ry="1.09" fill="#e81a10"/>
</g>
<rect x="121.45" y="386.95" width="19.10" height="35.60" fill="#424242" stroke="#282828" stroke-width="0.9"/>
<line x1="131.0" y1="415.7" x2="131.0" y2="422.4" stroke="#a0a0a0" stroke-width="1.1"/>
<line x1="126.4" y1="414.97" x2="123.4" y2="418.255" stroke="#b4b4b4" stroke-width="1.1"/>
<line x1="135.6" y1="414.97" x2="138.6" y2="418.255" stroke="#b4b4b4" stroke-width="1.1"/>
<path transform="translate(121.00,386.50) scale(20.000,36.500)" d="M0.5,0.05 C0.6,0.05 0.63,0.1 0.63,0.18 C0.77,0.22 0.83,0.3 0.84,0.42 C0.88,0.58 0.88,0.72 0.8,0.8 C0.66,0.86 0.34,0.86 0.2,0.8 C0.12,0.72 0.12,0.58 0.16,0.42 C0.17,0.3 0.23,0.22 0.37,0.18 C0.37,0.1 0.4,0.05 0.5,0.05 Z" fill="url(#mb)"/>
<clipPath id="mc6"><path transform="translate(119.80,385.77) scale(22.400,37.960)" d="M0.5,0.05 C0.6,0.05 0.63,0.1 0.63,0.18 C0.77,0.22 0.83,0.3 0.84,0.42 C0.88,0.58 0.88,0.72 0.8,0.8 C0.66,0.86 0.34,0.86 0.2,0.8 C0.12,0.72 0.12,0.58 0.16,0.42 C0.17,0.3 0.23,0.22 0.37,0.18 C0.37,0.1 0.4,0.05 0.5,0.05 Z"/></clipPath>
<g clip-path="url(#mc6)">
<ellipse cx="130.00" cy="397.45" rx="8.00" ry="8.39" fill="#5508f6"/>
<ellipse cx="131.00" cy="413.88" rx="8.40" ry="4.75" fill="#5508f6"/>
<ellipse cx="130.00" cy="406.57" rx="7.20" ry="2.56" fill="#e2e2e2"/>
<ellipse cx="127.00" cy="414.24" rx="1.60" ry="1.83" fill="#2a30ff"/>
</g>
<rect x="79.45" y="426.45" width="18.10" height="41.10" fill="#424242" stroke="#282828" stroke-width="0.9"/>
<line x1="88.5" y1="459.6" x2="88.5" y2="467.4" stroke="#a0a0a0" stroke-width="1.1"/>
<line x1="84.13" y1="458.76" x2="81.28" y2="462.54" stroke="#b4b4b4" stroke-width="1.1"/>
<line x1="92.87" y1="458.76" x2="95.72" y2="462.54" stroke="#b4b4b4" stroke-width="1.1"/>
<path transform="translate(79.00,426.00) scale(19.000,42.000)" d="M0.5,0.05 C0.6,0.05 0.63,0.1 0.63,0.18 C0.77,0.22 0.83,0.3 0.84,0.42 C0.88,0.58 0.88,0.72 0.8,0.8 C0.66,0.86 0.34,0.86 0.2,0.8 C0.12,0.72 0.12,0.58 0.16,0.42 C0.17,0.3 0.23,0.22 0.37,0.18 C0.37,0.1 0.4,0.05 0.5,0.05 Z" fill="url(#mb)"/>
<clipPath id="mc7"><path transform="translate(77.86,425.16) scale(21.280,43.680)" d="M0.5,0.05 C0.6,0.05 0.63,0.1 0.63,0.18 C0.77,0.22 0.83,0.3 0.84,0.42 C0.88,0.58 0.88,0.72 0.8,0.8 C0.66,0.86 0.34,0.86 0.2,0.8 C0.12,0.72 0.12,0.58 0.16,0.42 C0.17,0.3 0.23,0.22 0.37,0.18 C0.37,0.1 0.4,0.05 0.5,0.05 Z"/></clipPath>
<g clip-path="url(#mc7)">
<ellipse cx="88.50" cy="436.50" rx="6.65" ry="7.56" fill="#5508f6"/>
<ellipse cx="87.55" cy="454.56" rx="7.60" ry="6.30" fill="#5508f6"/>
<ellipse cx="88.50" cy="432.30" rx="1.52" ry="1.68" fill="#38d8ff"/>
<ellipse cx="89.45" cy="454.56" rx="2.28" ry="2.94" fill="#38d8ff"/>
<ellipse cx="89.45" cy="454.56" rx="1.33" ry="1.68" fill="#f2f21e"/>
<ellipse cx="89.45" cy="454.56" rx="0.67" ry="0.84" fill="#e81a10"/>
<ellipse cx="88.50" cy="445.74" rx="5.70" ry="2.52" fill="#e2e2e2"/>
</g>
<rect x="101.45" y="426.45" width="15.60" height="41.10" fill="#424242" stroke="#282828" stroke-width="0.9"/>
<line x1="109.25" y1="459.6" x2="109.25" y2="467.4" stroke="#a0a0a0" stroke-width="1.1"/>
<line x1="105.455" y1="458.76" x2="102.98" y2="462.54" stroke="#b4b4b4" stroke-width="1.1"/>
<line x1="113.045" y1="458.76" x2="115.52" y2="462.54" stroke="#b4b4b4" stroke-width="1.1"/>
<path transform="translate(101.00,426.00) scale(16.500,42.000)" d="M0.5,0.05 C0.6,0.05 0.63,0.1 0.63,0.18 C0.77,0.22 0.83,0.3 0.84,0.42 C0.88,0.58 0.88,0.72 0.8,0.8 C0.66,0.86 0.34,0.86 0.2,0.8 C0.12,0.72 0.12,0.58 0.16,0.42 C0.17,0.3 0.23,0.22 0.37,0.18 C0.37,0.1 0.4,0.05 0.5,0.05 Z" fill="url(#mb)"/>
<clipPath id="mc8"><path transform="translate(100.01,425.16) scale(18.480,43.680)" d="M0.5,0.05 C0.6,0.05 0.63,0.1 0.63,0.18 C0.77,0.22 0.83,0.3 0.84,0.42 C0.88,0.58 0.88,0.72 0.8,0.8 C0.66,0.86 0.34,0.86 0.2,0.8 C0.12,0.72 0.12,0.58 0.16,0.42 C0.17,0.3 0.23,0.22 0.37,0.18 C0.37,0.1 0.4,0.05 0.5,0.05 Z"/></clipPath>
<g clip-path="url(#mc8)">
<ellipse cx="109.25" cy="447.00" rx="7.26" ry="19.32" fill="#5508f6"/>
<ellipse cx="105.12" cy="449.10" rx="1.65" ry="3.36" fill="#38d8ff"/>
<ellipse cx="113.38" cy="447.00" rx="1.65" ry="2.94" fill="#38d8ff"/>
<ellipse cx="108.42" cy="440.70" rx="1.65" ry="2.10" fill="#5a8cff"/>
<ellipse cx="110.08" cy="455.40" rx="1.98" ry="2.52" fill="#2a30ff"/>
</g>
<rect x="121.45" y="426.45" width="19.10" height="41.10" fill="#424242" stroke="#282828" stroke-width="0.9"/>
<line x1="131.0" y1="459.6" x2="131.0" y2="467.4" stroke="#a0a0a0" stroke-width="1.1"/>
<line x1="126.4" y1="458.76" x2="123.4" y2="462.54" stroke="#b4b4b4" stroke-width="1.1"/>
<line x1="135.6" y1="458.76" x2="138.6" y2="462.54" stroke="#b4b4b4" stroke-width="1.1"/>
<path transform="translate(121.00,426.00) scale(20.000,42.000)" d="M0.5,0.05 C0.6,0.05 0.63,0.1 0.63,0.18 C0.77,0.22 0.83,0.3 0.84,0.42 C0.88,0.58 0.88,0.72 0.8,0.8 C0.66,0.86 0.34,0.86 0.2,0.8 C0.12,0.72 0.12,0.58 0.16,0.42 C0.17,0.3 0.23,0.22 0.37,0.18 C0.37,0.1 0.4,0.05 0.5,0.05 Z" fill="url(#mb)"/>
<clipPath id="mc9"><path transform="translate(119.80,425.16) scale(22.400,43.680)" d="M0.5,0.05 C0.6,0.05 0.63,0.1 0.63,0.18 C0.77,0.22 0.83,0.3 0.84,0.42 C0.88,0.58 0.88,0.72 0.8,0.8 C0.66,0.86 0.34,0.86 0.2,0.8 C0.12,0.72 0.12,0.58 0.16,0.42 C0.17,0.3 0.23,0.22 0.37,0.18 C0.37,0.1 0.4,0.05 0.5,0.05 Z"/></clipPath>
<g clip-path="url(#mc9)">
<ellipse cx="131.00" cy="440.70" rx="8.80" ry="10.92" fill="#5508f6"/>
<ellipse cx="130.00" cy="457.50" rx="8.40" ry="5.88" fill="#5508f6"/>
<ellipse cx="132.00" cy="450.36" rx="6.60" ry="3.36" fill="#e2e2e2"/>
<ellipse cx="124.00" cy="456.24" rx="1.40" ry="2.10" fill="#2a30ff"/>
</g>
<rect x="150.45" y="297.45" width="18.00" height="43.10" fill="#424242" stroke="#282828" stroke-width="0.9"/>
<line x1="159.45" y1="332.2" x2="159.45" y2="340.4" stroke="#a0a0a0" stroke-width="1.1"/>
<line x1="155.103" y1="331.32" x2="152.268" y2="335.28" stroke="#b4b4b4" stroke-width="1.1"/>
<line x1="163.797" y1="331.32" x2="166.632" y2="335.28" stroke="#b4b4b4" stroke-width="1.1"/>
<path transform="translate(150.00,297.00) scale(18.900,44.000)" d="M0.5,0.05 C0.6,0.05 0.63,0.1 0.63,0.18 C0.77,0.22 0.83,0.3 0.84,0.42 C0.88,0.58 0.88,0.72 0.8,0.8 C0.66,0.86 0.34,0.86 0.2,0.8 C0.12,0.72 0.12,0.58 0.16,0.42 C0.17,0.3 0.23,0.22 0.37,0.18 C0.37,0.1 0.4,0.05 0.5,0.05 Z" fill="url(#mb)"/>
<rect x="174.05" y="297.45" width="14.70" height="43.10" fill="#424242" stroke="#282828" stroke-width="0.9"/>
<line x1="181.39999999999998" y1="332.2" x2="181.39999999999998" y2="340.4" stroke="#a0a0a0" stroke-width="1.1"/>
<line x1="177.81199999999998" y1="331.32" x2="175.47199999999998" y2="335.28" stroke="#b4b4b4" stroke-width="1.1"/>
<line x1="184.988" y1="331.32" x2="187.328" y2="335.28" stroke="#b4b4b4" stroke-width="1.1"/>
<path transform="translate(173.60,297.00) scale(15.600,44.000)" d="M0.5,0.05 C0.6,0.05 0.63,0.1 0.63,0.18 C0.77,0.22 0.83,0.3 0.84,0.42 C0.88,0.58 0.88,0.72 0.8,0.8 C0.66,0.86 0.34,0.86 0.2,0.8 C0.12,0.72 0.12,0.58 0.16,0.42 C0.17,0.3 0.23,0.22 0.37,0.18 C0.37,0.1 0.4,0.05 0.5,0.05 Z" fill="url(#mb)"/>
<rect x="191.95" y="297.45" width="15.90" height="43.10" fill="#424242" stroke="#282828" stroke-width="0.9"/>
<line x1="199.9" y1="332.2" x2="199.9" y2="340.4" stroke="#a0a0a0" stroke-width="1.1"/>
<line x1="196.036" y1="331.32" x2="193.516" y2="335.28" stroke="#b4b4b4" stroke-width="1.1"/>
<line x1="203.764" y1="331.32" x2="206.28400000000002" y2="335.28" stroke="#b4b4b4" stroke-width="1.1"/>
<path transform="translate(191.50,297.00) scale(16.800,44.000)" d="M0.5,0.05 C0.6,0.05 0.63,0.1 0.63,0.18 C0.77,0.22 0.83,0.3 0.84,0.42 C0.88,0.58 0.88,0.72 0.8,0.8 C0.66,0.86 0.34,0.86 0.2,0.8 C0.12,0.72 0.12,0.58 0.16,0.42 C0.17,0.3 0.23,0.22 0.37,0.18 C0.37,0.1 0.4,0.05 0.5,0.05 Z" fill="url(#mb)"/>
<rect x="150.45" y="344.95" width="18.00" height="37.60" fill="#424242" stroke="#282828" stroke-width="0.9"/>
<line x1="159.45" y1="375.3" x2="159.45" y2="382.4" stroke="#a0a0a0" stroke-width="1.1"/>
<line x1="155.103" y1="374.53" x2="152.268" y2="377.995" stroke="#b4b4b4" stroke-width="1.1"/>
<line x1="163.797" y1="374.53" x2="166.632" y2="377.995" stroke="#b4b4b4" stroke-width="1.1"/>
<path transform="translate(150.00,344.50) scale(18.900,38.500)" d="M0.5,0.05 C0.6,0.05 0.63,0.1 0.63,0.18 C0.77,0.22 0.83,0.3 0.84,0.42 C0.88,0.58 0.88,0.72 0.8,0.8 C0.66,0.86 0.34,0.86 0.2,0.8 C0.12,0.72 0.12,0.58 0.16,0.42 C0.17,0.3 0.23,0.22 0.37,0.18 C0.37,0.1 0.4,0.05 0.5,0.05 Z" fill="url(#mb)"/>
<clipPath id="mc10"><path transform="translate(148.87,343.73) scale(21.168,40.040)" d="M0.5,0.05 C0.6,0.05 0.63,0.1 0.63,0.18 C0.77,0.22 0.83,0.3 0.84,0.42 C0.88,0.58 0.88,0.72 0.8,0.8 C0.66,0.86 0.34,0.86 0.2,0.8 C0.12,0.72 0.12,0.58 0.16,0.42 C0.17,0.3 0.23,0.22 0.37,0.18 C0.37,0.1 0.4,0.05 0.5,0.05 Z"/></clipPath>
<g clip-path="url(#mc10)">
<ellipse cx="159.45" cy="350.27" rx="2.46" ry="2.70" fill="#5508f6"/>
<ellipse cx="159.45" cy="357.20" rx="5.67" ry="4.62" fill="#5508f6"/>
<ellipse cx="155.67" cy="370.68" rx="3.21" ry="3.08" fill="#5508f6"/>
<ellipse cx="163.23" cy="370.68" rx="3.21" ry="3.08" fill="#5508f6"/>
</g>
<rect x="174.05" y="344.95" width="14.70" height="37.60" fill="#424242" stroke="#282828" stroke-width="0.9"/>
<line x1="181.39999999999998" y1="375.3" x2="181.39999999999998" y2="382.4" stroke="#a0a0a0" stroke-width="1.1"/>
<line x1="177.81199999999998" y1="374.53" x2="175.47199999999998" y2="377.995" stroke="#b4b4b4" stroke-width="1.1"/>
<line x1="184.988" y1="374.53" x2="187.328" y2="377.995" stroke="#b4b4b4" stroke-width="1.1"/>
<path transform="translate(173.60,344.50) scale(15.600,38.500)" d="M0.5,0.05 C0.6,0.05 0.63,0.1 0.63,0.18 C0.77,0.22 0.83,0.3 0.84,0.42 C0.88,0.58 0.88,0.72 0.8,0.8 C0.66,0.86 0.34,0.86 0.2,0.8 C0.12,0.72 0.12,0.58 0.16,0.42 C0.17,0.3 0.23,0.22 0.37,0.18 C0.37,0.1 0.4,0.05 0.5,0.05 Z" fill="url(#mb)"/>
<clipPath id="mc11"><path transform="translate(172.66,343.73) scale(17.472,40.040)" d="M0.5,0.05 C0.6,0.05 0.63,0.1 0.63,0.18 C0.77,0.22 0.83,0.3 0.84,0.42 C0.88,0.58 0.88,0.72 0.8,0.8 C0.66,0.86 0.34,0.86 0.2,0.8 C0.12,0.72 0.12,0.58 0.16,0.42 C0.17,0.3 0.23,0.22 0.37,0.18 C0.37,0.1 0.4,0.05 0.5,0.05 Z"/></clipPath>
<g clip-path="url(#mc11)">
<ellipse cx="175.16" cy="374.53" rx="0.94" ry="1.54" fill="#5508f6"/>
<ellipse cx="180.62" cy="375.30" rx="0.94" ry="1.16" fill="#5508f6"/>
<ellipse cx="188.42" cy="375.30" rx="0.78" ry="1.54" fill="#5508f6"/>
</g>
<rect x="191.95" y="344.95" width="15.90" height="37.60" fill="#424242" stroke="#282828" stroke-width="0.9"/>
<line x1="199.9" y1="375.3" x2="199.9" y2="382.4" stroke="#a0a0a0" stroke-width="1.1"/>
<line x1="196.036" y1="374.53" x2="193.516" y2="377.995" stroke="#b4b4b4" stroke-width="1.1"/>
<line x1="203.764" y1="374.53" x2="206.28400000000002" y2="377.995" stroke="#b4b4b4" stroke-width="1.1"/>
<path transform="translate(191.50,344.50) scale(16.800,38.500)" d="M0.5,0.05 C0.6,0.05 0.63,0.1 0.63,0.18 C0.77,0.22 0.83,0.3 0.84,0.42 C0.88,0.58 0.88,0.72 0.8,0.8 C0.66,0.86 0.34,0.86 0.2,0.8 C0.12,0.72 0.12,0.58 0.16,0.42 C0.17,0.3 0.23,0.22 0.37,0.18 C0.37,0.1 0.4,0.05 0.5,0.05 Z" fill="url(#mb)"/>
<clipPath id="mc12"><path transform="translate(190.49,343.73) scale(18.816,40.040)" d="M0.5,0.05 C0.6,0.05 0.63,0.1 0.63,0.18 C0.77,0.22 0.83,0.3 0.84,0.42 C0.88,0.58 0.88,0.72 0.8,0.8 C0.66,0.86 0.34,0.86 0.2,0.8 C0.12,0.72 0.12,0.58 0.16,0.42 C0.17,0.3 0.23,0.22 0.37,0.18 C0.37,0.1 0.4,0.05 0.5,0.05 Z"/></clipPath>
<g clip-path="url(#mc12)">
<ellipse cx="199.90" cy="351.43" rx="1.68" ry="1.93" fill="#5508f6"/>
<ellipse cx="199.90" cy="357.20" rx="4.20" ry="3.85" fill="#5508f6"/>
<ellipse cx="195.70" cy="370.68" rx="2.86" ry="3.85" fill="#5508f6"/>
<ellipse cx="204.10" cy="371.45" rx="3.70" ry="4.62" fill="#5508f6"/>
</g>
<rect x="150.45" y="386.95" width="18.00" height="35.60" fill="#424242" stroke="#282828" stroke-width="0.9"/>
<line x1="159.45" y1="415.7" x2="159.45" y2="422.4" stroke="#a0a0a0" stroke-width="1.1"/>
<line x1="155.103" y1="414.97" x2="152.268" y2="418.255" stroke="#b4b4b4" stroke-width="1.1"/>
<line x1="163.797" y1="414.97" x2="166.632" y2="418.255" stroke="#b4b4b4" stroke-width="1.1"/>
<path transform="translate(150.00,386.50) scale(18.900,36.500)" d="M0.5,0.05 C0.6,0.05 0.63,0.1 0.63,0.18 C0.77,0.22 0.83,0.3 0.84,0.42 C0.88,0.58 0.88,0.72 0.8,0.8 C0.66,0.86 0.34,0.86 0.2,0.8 C0.12,0.72 0.12,0.58 0.16,0.42 C0.17,0.3 0.23,0.22 0.37,0.18 C0.37,0.1 0.4,0.05 0.5,0.05 Z" fill="url(#mb)"/>
<clipPath id="mc13"><path transform="translate(148.87,385.77) scale(21.168,37.960)" d="M0.5,0.05 C0.6,0.05 0.63,0.1 0.63,0.18 C0.77,0.22 0.83,0.3 0.84,0.42 C0.88,0.58 0.88,0.72 0.8,0.8 C0.66,0.86 0.34,0.86 0.2,0.8 C0.12,0.72 0.12,0.58 0.16,0.42 C0.17,0.3 0.23,0.22 0.37,0.18 C0.37,0.1 0.4,0.05 0.5,0.05 Z"/></clipPath>
<g clip-path="url(#mc13)">
<ellipse cx="159.45" cy="402.93" rx="7.94" ry="14.60" fill="#5508f6"/>
<ellipse cx="154.72" cy="408.40" rx="1.32" ry="1.83" fill="#f2f21e"/>
<ellipse cx="161.34" cy="404.75" rx="2.27" ry="1.46" fill="#e2e2e2"/>
<ellipse cx="163.61" cy="408.40" rx="1.32" ry="1.83" fill="#38d8ff"/>
<ellipse cx="159.45" cy="397.45" rx="1.89" ry="2.19" fill="#2a30ff"/>
</g>
<rect x="174.05" y="386.95" width="14.70" height="35.60" fill="#424242" stroke="#282828" stroke-width="0.9"/>
<line x1="181.39999999999998" y1="415.7" x2="181.39999999999998" y2="422.4" stroke="#a0a0a0" stroke-width="1.1"/>
<line x1="177.81199999999998" y1="414.97" x2="175.47199999999998" y2="418.255" stroke="#b4b4b4" stroke-width="1.1"/>
<line x1="184.988" y1="414.97" x2="187.328" y2="418.255" stroke="#b4b4b4" stroke-width="1.1"/>
<path transform="translate(173.60,386.50) scale(15.600,36.500)" d="M0.5,0.05 C0.6,0.05 0.63,0.1 0.63,0.18 C0.77,0.22 0.83,0.3 0.84,0.42 C0.88,0.58 0.88,0.72 0.8,0.8 C0.66,0.86 0.34,0.86 0.2,0.8 C0.12,0.72 0.12,0.58 0.16,0.42 C0.17,0.3 0.23,0.22 0.37,0.18 C0.37,0.1 0.4,0.05 0.5,0.05 Z" fill="url(#mb)"/>
<clipPath id="mc14"><path transform="translate(172.66,385.77) scale(17.472,37.960)" d="M0.5,0.05 C0.6,0.05 0.63,0.1 0.63,0.18 C0.77,0.22 0.83,0.3 0.84,0.42 C0.88,0.58 0.88,0.72 0.8,0.8 C0.66,0.86 0.34,0.86 0.2,0.8 C0.12,0.72 0.12,0.58 0.16,0.42 C0.17,0.3 0.23,0.22 0.37,0.18 C0.37,0.1 0.4,0.05 0.5,0.05 Z"/></clipPath>
<g clip-path="url(#mc14)">
<ellipse cx="181.40" cy="399.27" rx="1.56" ry="1.09" fill="#5508f6"/>
<ellipse cx="179.06" cy="413.88" rx="4.21" ry="2.92" fill="#5508f6"/>
<ellipse cx="188.42" cy="413.88" rx="0.94" ry="1.83" fill="#5508f6"/>
</g>
<rect x="191.95" y="386.95" width="15.90" height="35.60" fill="#424242" stroke="#282828" stroke-width="0.9"/>
<line x1="199.9" y1="415.7" x2="199.9" y2="422.4" stroke="#a0a0a0" stroke-width="1.1"/>
<line x1="196.036" y1="414.97" x2="193.516" y2="418.255" stroke="#b4b4b4" stroke-width="1.1"/>
<line x1="203.764" y1="414.97" x2="206.28400000000002" y2="418.255" stroke="#b4b4b4" stroke-width="1.1"/>
<path transform="translate(191.50,386.50) scale(16.800,36.500)" d="M0.5,0.05 C0.6,0.05 0.63,0.1 0.63,0.18 C0.77,0.22 0.83,0.3 0.84,0.42 C0.88,0.58 0.88,0.72 0.8,0.8 C0.66,0.86 0.34,0.86 0.2,0.8 C0.12,0.72 0.12,0.58 0.16,0.42 C0.17,0.3 0.23,0.22 0.37,0.18 C0.37,0.1 0.4,0.05 0.5,0.05 Z" fill="url(#mb)"/>
<clipPath id="mc15"><path transform="translate(190.49,385.77) scale(18.816,37.960)" d="M0.5,0.05 C0.6,0.05 0.63,0.1 0.63,0.18 C0.77,0.22 0.83,0.3 0.84,0.42 C0.88,0.58 0.88,0.72 0.8,0.8 C0.66,0.86 0.34,0.86 0.2,0.8 C0.12,0.72 0.12,0.58 0.16,0.42 C0.17,0.3 0.23,0.22 0.37,0.18 C0.37,0.1 0.4,0.05 0.5,0.05 Z"/></clipPath>
<g clip-path="url(#mc15)">
<ellipse cx="199.90" cy="402.93" rx="6.72" ry="15.33" fill="#5508f6"/>
<ellipse cx="198.22" cy="408.40" rx="1.51" ry="1.83" fill="#38d8ff"/>
<ellipse cx="203.26" cy="407.31" rx="1.18" ry="1.83" fill="#e2e2e2"/>
</g>
<rect x="150.45" y="426.45" width="18.00" height="41.10" fill="#424242" stroke="#282828" stroke-width="0.9"/>
<line x1="159.45" y1="459.6" x2="159.45" y2="467.4" stroke="#a0a0a0" stroke-width="1.1"/>
<line x1="155.103" y1="458.76" x2="152.268" y2="462.54" stroke="#b4b4b4" stroke-width="1.1"/>
<line x1="163.797" y1="458.76" x2="166.632" y2="462.54" stroke="#b4b4b4" stroke-width="1.1"/>
<path transform="translate(150.00,426.00) scale(18.900,42.000)" d="M0.5,0.05 C0.6,0.05 0.63,0.1 0.63,0.18 C0.77,0.22 0.83,0.3 0.84,0.42 C0.88,0.58 0.88,0.72 0.8,0.8 C0.66,0.86 0.34,0.86 0.2,0.8 C0.12,0.72 0.12,0.58 0.16,0.42 C0.17,0.3 0.23,0.22 0.37,0.18 C0.37,0.1 0.4,0.05 0.5,0.05 Z" fill="url(#mb)"/>
<clipPath id="mc16"><path transform="translate(148.87,425.16) scale(21.168,43.680)" d="M0.5,0.05 C0.6,0.05 0.63,0.1 0.63,0.18 C0.77,0.22 0.83,0.3 0.84,0.42 C0.88,0.58 0.88,0.72 0.8,0.8 C0.66,0.86 0.34,0.86 0.2,0.8 C0.12,0.72 0.12,0.58 0.16,0.42 C0.17,0.3 0.23,0.22 0.37,0.18 C0.37,0.1 0.4,0.05 0.5,0.05 Z"/></clipPath>
<g clip-path="url(#mc16)">
<ellipse cx="159.45" cy="447.00" rx="8.69" ry="19.74" fill="#5508f6"/>
<ellipse cx="158.50" cy="443.64" rx="6.05" ry="12.60" fill="#38d8ff"/>
<ellipse cx="159.45" cy="438.60" rx="2.27" ry="2.52" fill="#2a30ff"/>
<ellipse cx="161.34" cy="444.90" rx="2.27" ry="2.52" fill="#7cf23c"/>
<ellipse cx="156.62" cy="435.24" rx="1.51" ry="1.68" fill="#f2f21e"/>
<ellipse cx="156.05" cy="451.20" rx="3.78" ry="5.04" fill="#f2f21e"/>
<ellipse cx="156.05" cy="451.20" rx="3.02" ry="3.78" fill="#e81a10"/>
<ellipse cx="165.50" cy="453.30" rx="1.32" ry="2.10" fill="#e81a10"/>
<ellipse cx="161.34" cy="458.76" rx="1.89" ry="2.10" fill="#7cf23c"/>
</g>
<rect x="174.05" y="426.45" width="14.70" height="41.10" fill="#424242" stroke="#282828" stroke-width="0.9"/>
<line x1="181.39999999999998" y1="459.6" x2="181.39999999999998" y2="467.4" stroke="#a0a0a0" stroke-width="1.1"/>
<line x1="177.81199999999998" y1="458.76" x2="175.47199999999998" y2="462.54" stroke="#b4b4b4" stroke-width="1.1"/>
<line x1="184.988" y1="458.76" x2="187.328" y2="462.54" stroke="#b4b4b4" stroke-width="1.1"/>
<path transform="translate(173.60,426.00) scale(15.600,42.000)" d="M0.5,0.05 C0.6,0.05 0.63,0.1 0.63,0.18 C0.77,0.22 0.83,0.3 0.84,0.42 C0.88,0.58 0.88,0.72 0.8,0.8 C0.66,0.86 0.34,0.86 0.2,0.8 C0.12,0.72 0.12,0.58 0.16,0.42 C0.17,0.3 0.23,0.22 0.37,0.18 C0.37,0.1 0.4,0.05 0.5,0.05 Z" fill="url(#mb)"/>
<clipPath id="mc17"><path transform="translate(172.66,425.16) scale(17.472,43.680)" d="M0.5,0.05 C0.6,0.05 0.63,0.1 0.63,0.18 C0.77,0.22 0.83,0.3 0.84,0.42 C0.88,0.58 0.88,0.72 0.8,0.8 C0.66,0.86 0.34,0.86 0.2,0.8 C0.12,0.72 0.12,0.58 0.16,0.42 C0.17,0.3 0.23,0.22 0.37,0.18 C0.37,0.1 0.4,0.05 0.5,0.05 Z"/></clipPath>
<g clip-path="url(#mc17)">
<ellipse cx="181.40" cy="447.00" rx="7.18" ry="16.80" fill="#5508f6"/>
<ellipse cx="179.06" cy="441.12" rx="1.56" ry="2.10" fill="#5508f6"/>
<ellipse cx="181.40" cy="456.24" rx="6.24" ry="3.78" fill="#5508f6"/>
<ellipse cx="181.40" cy="443.64" rx="4.68" ry="7.14" fill="#e2e2e2"/>
<ellipse cx="180.62" cy="454.56" rx="0.94" ry="1.68" fill="#2a30ff"/>
</g>
<rect x="191.95" y="426.45" width="15.90" height="41.10" fill="#424242" stroke="#282828" stroke-width="0.9"/>
<line x1="199.9" y1="459.6" x2="199.9" y2="467.4" stroke="#a0a0a0" stroke-width="1.1"/>
<line x1="196.036" y1="458.76" x2="193.516" y2="462.54" stroke="#b4b4b4" stroke-width="1.1"/>
<line x1="203.764" y1="458.76" x2="206.28400000000002" y2="462.54" stroke="#b4b4b4" stroke-width="1.1"/>
<path transform="translate(191.50,426.00) scale(16.800,42.000)" d="M0.5,0.05 C0.6,0.05 0.63,0.1 0.63,0.18 C0.77,0.22 0.83,0.3 0.84,0.42 C0.88,0.58 0.88,0.72 0.8,0.8 C0.66,0.86 0.34,0.86 0.2,0.8 C0.12,0.72 0.12,0.58 0.16,0.42 C0.17,0.3 0.23,0.22 0.37,0.18 C0.37,0.1 0.4,0.05 0.5,0.05 Z" fill="url(#mb)"/>
<clipPath id="mc18"><path transform="translate(190.49,425.16) scale(18.816,43.680)" d="M0.5,0.05 C0.6,0.05 0.63,0.1 0.63,0.18 C0.77,0.22 0.83,0.3 0.84,0.42 C0.88,0.58 0.88,0.72 0.8,0.8 C0.66,0.86 0.34,0.86 0.2,0.8 C0.12,0.72 0.12,0.58 0.16,0.42 C0.17,0.3 0.23,0.22 0.37,0.18 C0.37,0.1 0.4,0.05 0.5,0.05 Z"/></clipPath>
<g clip-path="url(#mc18)">
<ellipse cx="199.90" cy="449.10" rx="6.72" ry="17.64" fill="#5508f6"/>
<ellipse cx="199.90" cy="440.70" rx="2.02" ry="2.94" fill="#2a30ff"/>
<ellipse cx="198.22" cy="454.56" rx="1.68" ry="2.52" fill="#38d8ff"/>
<ellipse cx="202.42" cy="453.30" rx="1.68" ry="2.52" fill="#7cf23c"/>
<ellipse cx="200.74" cy="458.76" rx="1.34" ry="2.10" fill="#38d8ff"/>
</g>
<rect x="220.45" y="297.45" width="21.10" height="43.10" fill="#424242" stroke="#282828" stroke-width="0.9"/>
<line x1="231.0" y1="332.2" x2="231.0" y2="340.4" stroke="#a0a0a0" stroke-width="1.1"/>
<line x1="225.94" y1="331.32" x2="222.64" y2="335.28" stroke="#b4b4b4" stroke-width="1.1"/>
<line x1="236.06" y1="331.32" x2="239.36" y2="335.28" stroke="#b4b4b4" stroke-width="1.1"/>
<path transform="translate(220.00,297.00) scale(22.000,44.000)" d="M0.5,0.05 C0.6,0.05 0.63,0.1 0.63,0.18 C0.77,0.22 0.83,0.3 0.84,0.42 C0.88,0.58 0.88,0.72 0.8,0.8 C0.66,0.86 0.34,0.86 0.2,0.8 C0.12,0.72 0.12,0.58 0.16,0.42 C0.17,0.3 0.23,0.22 0.37,0.18 C0.37,0.1 0.4,0.05 0.5,0.05 Z" fill="url(#mb)"/>
<rect x="245.95" y="297.45" width="20.60" height="43.10" fill="#424242" stroke="#282828" stroke-width="0.9"/>
<line x1="256.25" y1="332.2" x2="256.25" y2="340.4" stroke="#a0a0a0" stroke-width="1.1"/>
<line x1="251.305" y1="331.32" x2="248.08" y2="335.28" stroke="#b4b4b4" stroke-width="1.1"/>
<line x1="261.195" y1="331.32" x2="264.42" y2="335.28" stroke="#b4b4b4" stroke-width="1.1"/>
<path transform="translate(245.50,297.00) scale(21.500,44.000)" d="M0.5,0.05 C0.6,0.05 0.63,0.1 0.63,0.18 C0.77,0.22 0.83,0.3 0.84,0.42 C0.88,0.58 0.88,0.72 0.8,0.8 C0.66,0.86 0.34,0.86 0.2,0.8 C0.12,0.72 0.12,0.58 0.16,0.42 C0.17,0.3 0.23,0.22 0.37,0.18 C0.37,0.1 0.4,0.05 0.5,0.05 Z" fill="url(#mb)"/>
<rect x="270.95" y="297.45" width="14.60" height="43.10" fill="#424242" stroke="#282828" stroke-width="0.9"/>
<line x1="278.25" y1="332.2" x2="278.25" y2="340.4" stroke="#a0a0a0" stroke-width="1.1"/>
<line x1="274.685" y1="331.32" x2="272.36" y2="335.28" stroke="#b4b4b4" stroke-width="1.1"/>
<line x1="281.815" y1="331.32" x2="284.14" y2="335.28" stroke="#b4b4b4" stroke-width="1.1"/>
<path transform="translate(270.50,297.00) scale(15.500,44.000)" d="M0.5,0.05 C0.6,0.05 0.63,0.1 0.63,0.18 C0.77,0.22 0.83,0.3 0.84,0.42 C0.88,0.58 0.88,0.72 0.8,0.8 C0.66,0.86 0.34,0.86 0.2,0.8 C0.12,0.72 0.12,0.58 0.16,0.42 C0.17,0.3 0.23,0.22 0.37,0.18 C0.37,0.1 0.4,0.05 0.5,0.05 Z" fill="url(#mb)"/>
<rect x="288.95" y="297.45" width="18.60" height="43.10" fill="#424242" stroke="#282828" stroke-width="0.9"/>
<line x1="298.25" y1="332.2" x2="298.25" y2="340.4" stroke="#a0a0a0" stroke-width="1.1"/>
<line x1="293.765" y1="331.32" x2="290.84" y2="335.28" stroke="#b4b4b4" stroke-width="1.1"/>
<line x1="302.735" y1="331.32" x2="305.66" y2="335.28" stroke="#b4b4b4" stroke-width="1.1"/>
<path transform="translate(288.50,297.00) scale(19.500,44.000)" d="M0.5,0.05 C0.6,0.05 0.63,0.1 0.63,0.18 C0.77,0.22 0.83,0.3 0.84,0.42 C0.88,0.58 0.88,0.72 0.8,0.8 C0.66,0.86 0.34,0.86 0.2,0.8 C0.12,0.72 0.12,0.58 0.16,0.42 C0.17,0.3 0.23,0.22 0.37,0.18 C0.37,0.1 0.4,0.05 0.5,0.05 Z" fill="url(#mb)"/>
<rect x="220.45" y="344.95" width="21.10" height="37.60" fill="#424242" stroke="#282828" stroke-width="0.9"/>
<line x1="231.0" y1="375.3" x2="231.0" y2="382.4" stroke="#a0a0a0" stroke-width="1.1"/>
<line x1="225.94" y1="374.53" x2="222.64" y2="377.995" stroke="#b4b4b4" stroke-width="1.1"/>
<line x1="236.06" y1="374.53" x2="239.36" y2="377.995" stroke="#b4b4b4" stroke-width="1.1"/>
<path transform="translate(220.00,344.50) scale(22.000,38.500)" d="M0.5,0.05 C0.6,0.05 0.63,0.1 0.63,0.18 C0.77,0.22 0.83,0.3 0.84,0.42 C0.88,0.58 0.88,0.72 0.8,0.8 C0.66,0.86 0.34,0.86 0.2,0.8 C0.12,0.72 0.12,0.58 0.16,0.42 C0.17,0.3 0.23,0.22 0.37,0.18 C0.37,0.1 0.4,0.05 0.5,0.05 Z" fill="url(#mb)"/>
<clipPath id="mc19"><path transform="translate(218.68,343.73) scale(24.640,40.040)" d="M0.5,0.05 C0.6,0.05 0.63,0.1 0.63,0.18 C0.77,0.22 0.83,0.3 0.84,0.42 C0.88,0.58 0.88,0.72 0.8,0.8 C0.66,0.86 0.34,0.86 0.2,0.8 C0.12,0.72 0.12,0.58 0.16,0.42 C0.17,0.3 0.23,0.22 0.37,0.18 C0.37,0.1 0.4,0.05 0.5,0.05 Z"/></clipPath>
<g clip-path="url(#mc19)">
<ellipse cx="233.64" cy="356.05" rx="3.74" ry="3.46" fill="#5508f6"/>
<ellipse cx="234.52" cy="352.97" rx="1.32" ry="1.16" fill="#5508f6"/>
<ellipse cx="237.16" cy="359.13" rx="1.10" ry="1.16" fill="#5508f6"/>
<ellipse cx="225.50" cy="372.22" rx="2.64" ry="2.31" fill="#5508f6"/>
<ellipse cx="231.00" cy="347.58" rx="1.10" ry="0.77" fill="#5508f6"/>
</g>
<rect x="245.95" y="344.95" width="20.60" height="37.60" fill="#424242" stroke="#282828" stroke-width="0.9"/>
<line x1="256.25" y1="375.3" x2="256.25" y2="382.4" stroke="#a0a0a0" stroke-width="1.1"/>
<line x1="251.305" y1="374.53" x2="248.08" y2="377.995" stroke="#b4b4b4" stroke-width="1.1"/>
<line x1="261.195" y1="374.53" x2="264.42" y2="377.995" stroke="#b4b4b4" stroke-width="1.1"/>
<path transform="translate(245.50,344.50) scale(21.500,38.500)" d="M0.5,0.05 C0.6,0.05 0.63,0.1 0.63,0.18 C0.77,0.22 0.83,0.3 0.84,0.42 C0.88,0.58 0.88,0.72 0.8,0.8 C0.66,0.86 0.34,0.86 0.2,0.8 C0.12,0.72 0.12,0.58 0.16,0.42 C0.17,0.3 0.23,0.22 0.37,0.18 C0.37,0.1 0.4,0.05 0.5,0.05 Z" fill="url(#mb)"/>
<rect x="270.95" y="344.95" width="14.60" height="37.60" fill="#424242" stroke="#282828" stroke-width="0.9"/>
<line x1="278.25" y1="375.3" x2="278.25" y2="382.4" stroke="#a0a0a0" stroke-width="1.1"/>
<line x1="274.685" y1="374.53" x2="272.36" y2="377.995" stroke="#b4b4b4" stroke-width="1.1"/>
<line x1="281.815" y1="374.53" x2="284.14" y2="377.995" stroke="#b4b4b4" stroke-width="1.1"/>
<path transform="translate(270.50,344.50) scale(15.500,38.500)" d="M0.5,0.05 C0.6,0.05 0.63,0.1 0.63,0.18 C0.77,0.22 0.83,0.3 0.84,0.42 C0.88,0.58 0.88,0.72 0.8,0.8 C0.66,0.86 0.34,0.86 0.2,0.8 C0.12,0.72 0.12,0.58 0.16,0.42 C0.17,0.3 0.23,0.22 0.37,0.18 C0.37,0.1 0.4,0.05 0.5,0.05 Z" fill="url(#mb)"/>
<clipPath id="mc20"><path transform="translate(269.57,343.73) scale(17.360,40.040)" d="M0.5,0.05 C0.6,0.05 0.63,0.1 0.63,0.18 C0.77,0.22 0.83,0.3 0.84,0.42 C0.88,0.58 0.88,0.72 0.8,0.8 C0.66,0.86 0.34,0.86 0.2,0.8 C0.12,0.72 0.12,0.58 0.16,0.42 C0.17,0.3 0.23,0.22 0.37,0.18 C0.37,0.1 0.4,0.05 0.5,0.05 Z"/></clipPath>
<g clip-path="url(#mc20)">
<ellipse cx="278.25" cy="354.89" rx="4.65" ry="3.08" fill="#5508f6"/>
<ellipse cx="278.25" cy="358.75" rx="1.86" ry="2.31" fill="#5508f6"/>
<ellipse cx="274.38" cy="372.22" rx="2.79" ry="3.08" fill="#5508f6"/>
<ellipse cx="282.12" cy="372.22" rx="2.79" ry="3.08" fill="#5508f6"/>
</g>
<rect x="288.95" y="344.95" width="18.60" height="37.60" fill="#424242" stroke="#282828" stroke-width="0.9"/>
<line x1="298.25" y1="375.3" x2="298.25" y2="382.4" stroke="#a0a0a0" stroke-width="1.1"/>
<line x1="293.765" y1="374.53" x2="290.84" y2="377.995" stroke="#b4b4b4" stroke-width="1.1"/>
<line x1="302.735" y1="374.53" x2="305.66" y2="377.995" stroke="#b4b4b4" stroke-width="1.1"/>
<path transform="translate(288.50,344.50) scale(19.500,38.500)" d="M0.5,0.05 C0.6,0.05 0.63,0.1 0.63,0.18 C0.77,0.22 0.83,0.3 0.84,0.42 C0.88,0.58 0.88,0.72 0.8,0.8 C0.66,0.86 0.34,0.86 0.2,0.8 C0.12,0.72 0.12,0.58 0.16,0.42 C0.17,0.3 0.23,0.22 0.37,0.18 C0.37,0.1 0.4,0.05 0.5,0.05 Z" fill="url(#mb)"/>
<clipPath id="mc21"><path transform="translate(287.33,343.73) scale(21.840,40.040)" d="M0.5,0.05 C0.6,0.05 0.63,0.1 0.63,0.18 C0.77,0.22 0.83,0.3 0.84,0.42 C0.88,0.58 0.88,0.72 0.8,0.8 C0.66,0.86 0.34,0.86 0.2,0.8 C0.12,0.72 0.12,0.58 0.16,0.42 C0.17,0.3 0.23,0.22 0.37,0.18 C0.37,0.1 0.4,0.05 0.5,0.05 Z"/></clipPath>
<g clip-path="url(#mc21)">
<ellipse cx="298.25" cy="357.98" rx="0.98" ry="0.77" fill="#5508f6"/>
<ellipse cx="307.61" cy="373.38" rx="0.98" ry="1.54" fill="#5508f6"/>
</g>
<rect x="220.45" y="386.95" width="21.10" height="35.60" fill="#424242" stroke="#282828" stroke-width="0.9"/>
<line x1="231.0" y1="415.7" x2="231.0" y2="422.4" stroke="#a0a0a0" stroke-width="1.1"/>
<line x1="225.94" y1="414.97" x2="222.64" y2="418.255" stroke="#b4b4b4" stroke-width="1.1"/>
<line x1="236.06" y1="414.97" x2="239.36" y2="418.255" stroke="#b4b4b4" stroke-width="1.1"/>
<path transform="translate(220.00,386.50) scale(22.000,36.500)" d="M0.5,0.05 C0.6,0.05 0.63,0.1 0.63,0.18 C0.77,0.22 0.83,0.3 0.84,0.42 C0.88,0.58 0.88,0.72 0.8,0.8 C0.66,0.86 0.34,0.86 0.2,0.8 C0.12,0.72 0.12,0.58 0.16,0.42 C0.17,0.3 0.23,0.22 0.37,0.18 C0.37,0.1 0.4,0.05 0.5,0.05 Z" fill="url(#mb)"/>
<clipPath id="mc22"><path transform="translate(218.68,385.77) scale(24.640,37.960)" d="M0.5,0.05 C0.6,0.05 0.63,0.1 0.63,0.18 C0.77,0.22 0.83,0.3 0.84,0.42 C0.88,0.58 0.88,0.72 0.8,0.8 C0.66,0.86 0.34,0.86 0.2,0.8 C0.12,0.72 0.12,0.58 0.16,0.42 C0.17,0.3 0.23,0.22 0.37,0.18 C0.37,0.1 0.4,0.05 0.5,0.05 Z"/></clipPath>
<g clip-path="url(#mc22)">
<ellipse cx="231.00" cy="397.45" rx="3.96" ry="2.92" fill="#5508f6"/>
<ellipse cx="231.00" cy="401.10" rx="2.64" ry="3.65" fill="#5508f6"/>
<ellipse cx="225.50" cy="413.88" rx="2.20" ry="2.19" fill="#5508f6"/>
<ellipse cx="231.00" cy="415.70" rx="2.20" ry="1.83" fill="#5508f6"/>
<ellipse cx="238.70" cy="412.78" rx="1.32" ry="1.83" fill="#5508f6"/>
</g>
<rect x="245.95" y="386.95" width="20.60" height="35.60" fill="#424242" stroke="#282828" stroke-width="0.9"/>
<line x1="256.25" y1="415.7" x2="256.25" y2="422.4" stroke="#a0a0a0" stroke-width="1.1"/>
<line x1="251.305" y1="414.97" x2="248.08" y2="418.255" stroke="#b4b4b4" stroke-width="1.1"/>
<line x1="261.195" y1="414.97" x2="264.42" y2="418.255" stroke="#b4b4b4" stroke-width="1.1"/>
<path transform="translate(245.50,386.50) scale(21.500,36.500)" d="M0.5,0.05 C0.6,0.05 0.63,0.1 0.63,0.18 C0.77,0.22 0.83,0.3 0.84,0.42 C0.88,0.58 0.88,0.72 0.8,0.8 C0.66,0.86 0.34,0.86 0.2,0.8 C0.12,0.72 0.12,0.58 0.16,0.42 C0.17,0.3 0.23,0.22 0.37,0.18 C0.37,0.1 0.4,0.05 0.5,0.05 Z" fill="url(#mb)"/>
<clipPath id="mc23"><path transform="translate(244.21,385.77) scale(24.080,37.960)" d="M0.5,0.05 C0.6,0.05 0.63,0.1 0.63,0.18 C0.77,0.22 0.83,0.3 0.84,0.42 C0.88,0.58 0.88,0.72 0.8,0.8 C0.66,0.86 0.34,0.86 0.2,0.8 C0.12,0.72 0.12,0.58 0.16,0.42 C0.17,0.3 0.23,0.22 0.37,0.18 C0.37,0.1 0.4,0.05 0.5,0.05 Z"/></clipPath>
<g clip-path="url(#mc23)">
<ellipse cx="257.32" cy="389.42" rx="2.15" ry="1.46" fill="#5508f6"/>
<ellipse cx="263.77" cy="408.40" rx="2.15" ry="2.56" fill="#5508f6"/>
</g>
<rect x="270.95" y="386.95" width="14.60" height="35.60" fill="#424242" stroke="#282828" stroke-width="0.9"/>
<line x1="278.25" y1="415.7" x2="278.25" y2="422.4" stroke="#a0a0a0" stroke-width="1.1"/>
<line x1="274.685" y1="414.97" x2="272.36" y2="418.255" stroke="#b4b4b4" stroke-width="1.1"/>
<line x1="281.815" y1="414.97" x2="284.14" y2="418.255" stroke="#b4b4b4" stroke-width="1.1"/>
<path transform="translate(270.50,386.50) scale(15.500,36.500)" d="M0.5,0.05 C0.6,0.05 0.63,0.1 0.63,0.18 C0.77,0.22 0.83,0.3 0.84,0.42 C0.88,0.58 0.88,0.72 0.8,0.8 C0.66,0.86 0.34,0.86 0.2,0.8 C0.12,0.72 0.12,0.58 0.16,0.42 C0.17,0.3 0.23,0.22 0.37,0.18 C0.37,0.1 0.4,0.05 0.5,0.05 Z" fill="url(#mb)"/>
<clipPath id="mc24"><path transform="translate(269.57,385.77) scale(17.360,37.960)" d="M0.5,0.05 C0.6,0.05 0.63,0.1 0.63,0.18 C0.77,0.22 0.83,0.3 0.84,0.42 C0.88,0.58 0.88,0.72 0.8,0.8 C0.66,0.86 0.34,0.86 0.2,0.8 C0.12,0.72 0.12,0.58 0.16,0.42 C0.17,0.3 0.23,0.22 0.37,0.18 C0.37,0.1 0.4,0.05 0.5,0.05 Z"/></clipPath>
<g clip-path="url(#mc24)">
<ellipse cx="279.02" cy="397.45" rx="4.19" ry="3.65" fill="#5508f6"/>
<ellipse cx="282.12" cy="406.57" rx="3.88" ry="9.12" fill="#5508f6"/>
<ellipse cx="275.15" cy="410.23" rx="2.64" ry="2.92" fill="#5508f6"/>
<ellipse cx="278.25" cy="413.88" rx="3.88" ry="2.92" fill="#5508f6"/>
</g>
<rect x="288.95" y="386.95" width="18.60" height="35.60" fill="#424242" stroke="#282828" stroke-width="0.9"/>
<line x1="298.25" y1="415.7" x2="298.25" y2="422.4" stroke="#a0a0a0" stroke-width="1.1"/>
<line x1="293.765" y1="414.97" x2="290.84" y2="418.255" stroke="#b4b4b4" stroke-width="1.1"/>
<line x1="302.735" y1="414.97" x2="305.66" y2="418.255" stroke="#b4b4b4" stroke-width="1.1"/>
<path transform="translate(288.50,386.50) scale(19.500,36.500)" d="M0.5,0.05 C0.6,0.05 0.63,0.1 0.63,0.18 C0.77,0.22 0.83,0.3 0.84,0.42 C0.88,0.58 0.88,0.72 0.8,0.8 C0.66,0.86 0.34,0.86 0.2,0.8 C0.12,0.72 0.12,0.58 0.16,0.42 C0.17,0.3 0.23,0.22 0.37,0.18 C0.37,0.1 0.4,0.05 0.5,0.05 Z" fill="url(#mb)"/>
<clipPath id="mc25"><path transform="translate(287.33,385.77) scale(21.840,37.960)" d="M0.5,0.05 C0.6,0.05 0.63,0.1 0.63,0.18 C0.77,0.22 0.83,0.3 0.84,0.42 C0.88,0.58 0.88,0.72 0.8,0.8 C0.66,0.86 0.34,0.86 0.2,0.8 C0.12,0.72 0.12,0.58 0.16,0.42 C0.17,0.3 0.23,0.22 0.37,0.18 C0.37,0.1 0.4,0.05 0.5,0.05 Z"/></clipPath>
<g clip-path="url(#mc25)">
<ellipse cx="292.40" cy="409.13" rx="3.90" ry="7.30" fill="#5508f6"/>
<ellipse cx="298.25" cy="394.53" rx="2.34" ry="1.83" fill="#5508f6"/>
</g>
<rect x="220.45" y="426.45" width="21.10" height="41.10" fill="#424242" stroke="#282828" stroke-width="0.9"/>
<line x1="231.0" y1="459.6" x2="231.0" y2="467.4" stroke="#a0a0a0" stroke-width="1.1"/>
<line x1="225.94" y1="458.76" x2="222.64" y2="462.54" stroke="#b4b4b4" stroke-width="1.1"/>
<line x1="236.06" y1="458.76" x2="239.36" y2="462.54" stroke="#b4b4b4" stroke-width="1.1"/>
<path transform="translate(220.00,426.00) scale(22.000,42.000)" d="M0.5,0.05 C0.6,0.05 0.63,0.1 0.63,0.18 C0.77,0.22 0.83,0.3 0.84,0.42 C0.88,0.58 0.88,0.72 0.8,0.8 C0.66,0.86 0.34,0.86 0.2,0.8 C0.12,0.72 0.12,0.58 0.16,0.42 C0.17,0.3 0.23,0.22 0.37,0.18 C0.37,0.1 0.4,0.05 0.5,0.05 Z" fill="url(#mb)"/>
<clipPath id="mc26"><path transform="translate(218.68,425.16) scale(24.640,43.680)" d="M0.5,0.05 C0.6,0.05 0.63,0.1 0.63,0.18 C0.77,0.22 0.83,0.3 0.84,0.42 C0.88,0.58 0.88,0.72 0.8,0.8 C0.66,0.86 0.34,0.86 0.2,0.8 C0.12,0.72 0.12,0.58 0.16,0.42 C0.17,0.3 0.23,0.22 0.37,0.18 C0.37,0.1 0.4,0.05 0.5,0.05 Z"/></clipPath>
<g clip-path="url(#mc26)">
<ellipse cx="231.00" cy="437.76" rx="3.96" ry="2.94" fill="#5508f6"/>
<ellipse cx="231.00" cy="461.70" rx="1.10" ry="1.26" fill="#5508f6"/>
</g>
<rect x="245.95" y="426.45" width="20.60" height="41.10" fill="#424242" stroke="#282828" stroke-width="0.9"/>
<line x1="256.25" y1="459.6" x2="256.25" y2="467.4" stroke="#a0a0a0" stroke-width="1.1"/>
<line x1="251.305" y1="458.76" x2="248.08" y2="462.54" stroke="#b4b4b4" stroke-width="1.1"/>
<line x1="261.195" y1="458.76" x2="264.42" y2="462.54" stroke="#b4b4b4" stroke-width="1.1"/>
<path transform="translate(245.50,426.00) scale(21.500,42.000)" d="M0.5,0.05 C0.6,0.05 0.63,0.1 0.63,0.18 C0.77,0.22 0.83,0.3 0.84,0.42 C0.88,0.58 0.88,0.72 0.8,0.8 C0.66,0.86 0.34,0.86 0.2,0.8 C0.12,0.72 0.12,0.58 0.16,0.42 C0.17,0.3 0.23,0.22 0.37,0.18 C0.37,0.1 0.4,0.05 0.5,0.05 Z" fill="url(#mb)"/>
<clipPath id="mc27"><path transform="translate(244.21,425.16) scale(24.080,43.680)" d="M0.5,0.05 C0.6,0.05 0.63,0.1 0.63,0.18 C0.77,0.22 0.83,0.3 0.84,0.42 C0.88,0.58 0.88,0.72 0.8,0.8 C0.66,0.86 0.34,0.86 0.2,0.8 C0.12,0.72 0.12,0.58 0.16,0.42 C0.17,0.3 0.23,0.22 0.37,0.18 C0.37,0.1 0.4,0.05 0.5,0.05 Z"/></clipPath>
<g clip-path="url(#mc27)">
<ellipse cx="256.25" cy="431.04" rx="2.79" ry="2.10" fill="#5508f6"/>
<ellipse cx="251.95" cy="453.30" rx="1.29" ry="1.26" fill="#5508f6"/>
</g>
<rect x="270.95" y="426.45" width="14.60" height="36.10" fill="#424242" stroke="#282828" stroke-width="0.9"/>
<line x1="278.25" y1="455.6" x2="278.25" y2="462.4" stroke="#a0a0a0" stroke-width="1.1"/>
<line x1="274.685" y1="454.86" x2="272.36" y2="458.19" stroke="#b4b4b4" stroke-width="1.1"/>
<line x1="281.815" y1="454.86" x2="284.14" y2="458.19" stroke="#b4b4b4" stroke-width="1.1"/>
<path transform="translate(270.50,426.00) scale(15.500,37.000)" d="M0.5,0.05 C0.6,0.05 0.63,0.1 0.63,0.18 C0.77,0.22 0.83,0.3 0.84,0.42 C0.88,0.58 0.88,0.72 0.8,0.8 C0.66,0.86 0.34,0.86 0.2,0.8 C0.12,0.72 0.12,0.58 0.16,0.42 C0.17,0.3 0.23,0.22 0.37,0.18 C0.37,0.1 0.4,0.05 0.5,0.05 Z" fill="url(#mb)"/>
<clipPath id="mc28"><path transform="translate(269.57,425.26) scale(17.360,38.480)" d="M0.5,0.05 C0.6,0.05 0.63,0.1 0.63,0.18 C0.77,0.22 0.83,0.3 0.84,0.42 C0.88,0.58 0.88,0.72 0.8,0.8 C0.66,0.86 0.34,0.86 0.2,0.8 C0.12,0.72 0.12,0.58 0.16,0.42 C0.17,0.3 0.23,0.22 0.37,0.18 C0.37,0.1 0.4,0.05 0.5,0.05 Z"/></clipPath>
<g clip-path="url(#mc28)">
<ellipse cx="279.02" cy="442.65" rx="4.65" ry="4.44" fill="#5508f6"/>
<ellipse cx="278.25" cy="452.64" rx="6.51" ry="8.14" fill="#5508f6"/>
<ellipse cx="278.25" cy="432.66" rx="1.55" ry="1.85" fill="#5508f6"/>
<ellipse cx="275.15" cy="442.65" rx="2.32" ry="4.44" fill="#e2e2e2"/>
</g>
<rect x="317.45" y="297.45" width="17.60" height="43.10" fill="#424242" stroke="#282828" stroke-width="0.9"/>
<line x1="326.25" y1="332.2" x2="326.25" y2="340.4" stroke="#a0a0a0" stroke-width="1.1"/>
<line x1="321.995" y1="331.32" x2="319.22" y2="335.28" stroke="#b4b4b4" stroke-width="1.1"/>
<line x1="330.505" y1="331.32" x2="333.28" y2="335.28" stroke="#b4b4b4" stroke-width="1.1"/>
<path transform="translate(317.00,297.00) scale(18.500,44.000)" d="M0.5,0.05 C0.6,0.05 0.63,0.1 0.63,0.18 C0.77,0.22 0.83,0.3 0.84,0.42 C0.88,0.58 0.88,0.72 0.8,0.8 C0.66,0.86 0.34,0.86 0.2,0.8 C0.12,0.72 0.12,0.58 0.16,0.42 C0.17,0.3 0.23,0.22 0.37,0.18 C0.37,0.1 0.4,0.05 0.5,0.05 Z" fill="url(#mb)"/>
<rect x="338.95" y="297.45" width="18.60" height="43.10" fill="#424242" stroke="#282828" stroke-width="0.9"/>
<line x1="348.25" y1="332.2" x2="348.25" y2="340.4" stroke="#a0a0a0" stroke-width="1.1"/>
<line x1="343.765" y1="331.32" x2="340.84" y2="335.28" stroke="#b4b4b4" stroke-width="1.1"/>
<line x1="352.735" y1="331.32" x2="355.66" y2="335.28" stroke="#b4b4b4" stroke-width="1.1"/>
<path transform="translate(338.50,297.00) scale(19.500,44.000)" d="M0.5,0.05 C0.6,0.05 0.63,0.1 0.63,0.18 C0.77,0.22 0.83,0.3 0.84,0.42 C0.88,0.58 0.88,0.72 0.8,0.8 C0.66,0.86 0.34,0.86 0.2,0.8 C0.12,0.72 0.12,0.58 0.16,0.42 C0.17,0.3 0.23,0.22 0.37,0.18 C0.37,0.1 0.4,0.05 0.5,0.05 Z" fill="url(#mb)"/>
<rect x="361.45" y="297.45" width="20.10" height="43.10" fill="#424242" stroke="#282828" stroke-width="0.9"/>
<line x1="371.5" y1="332.2" x2="371.5" y2="340.4" stroke="#a0a0a0" stroke-width="1.1"/>
<line x1="366.67" y1="331.32" x2="363.52" y2="335.28" stroke="#b4b4b4" stroke-width="1.1"/>
<line x1="376.33" y1="331.32" x2="379.48" y2="335.28" stroke="#b4b4b4" stroke-width="1.1"/>
<path transform="translate(361.00,297.00) scale(21.000,44.000)" d="M0.5,0.05 C0.6,0.05 0.63,0.1 0.63,0.18 C0.77,0.22 0.83,0.3 0.84,0.42 C0.88,0.58 0.88,0.72 0.8,0.8 C0.66,0.86 0.34,0.86 0.2,0.8 C0.12,0.72 0.12,0.58 0.16,0.42 C0.17,0.3 0.23,0.22 0.37,0.18 C0.37,0.1 0.4,0.05 0.5,0.05 Z" fill="url(#mb)"/>
<rect x="386.45" y="297.45" width="18.10" height="43.10" fill="#424242" stroke="#282828" stroke-width="0.9"/>
<line x1="395.5" y1="332.2" x2="395.5" y2="340.4" stroke="#a0a0a0" stroke-width="1.1"/>
<line x1="391.13" y1="331.32" x2="388.28" y2="335.28" stroke="#b4b4b4" stroke-width="1.1"/>
<line x1="399.87" y1="331.32" x2="402.72" y2="335.28" stroke="#b4b4b4" stroke-width="1.1"/>
<path transform="translate(386.00,297.00) scale(19.000,44.000)" d="M0.5,0.05 C0.6,0.05 0.63,0.1 0.63,0.18 C0.77,0.22 0.83,0.3 0.84,0.42 C0.88,0.58 0.88,0.72 0.8,0.8 C0.66,0.86 0.34,0.86 0.2,0.8 C0.12,0.72 0.12,0.58 0.16,0.42 C0.17,0.3 0.23,0.22 0.37,0.18 C0.37,0.1 0.4,0.05 0.5,0.05 Z" fill="url(#mb)"/>
<rect x="317.45" y="344.95" width="17.60" height="37.60" fill="#424242" stroke="#282828" stroke-width="0.9"/>
<line x1="326.25" y1="375.3" x2="326.25" y2="382.4" stroke="#a0a0a0" stroke-width="1.1"/>
<line x1="321.995" y1="374.53" x2="319.22" y2="377.995" stroke="#b4b4b4" stroke-width="1.1"/>
<line x1="330.505" y1="374.53" x2="333.28" y2="377.995" stroke="#b4b4b4" stroke-width="1.1"/>
<path transform="translate(317.00,344.50) scale(18.500,38.500)" d="M0.5,0.05 C0.6,0.05 0.63,0.1 0.63,0.18 C0.77,0.22 0.83,0.3 0.84,0.42 C0.88,0.58 0.88,0.72 0.8,0.8 C0.66,0.86 0.34,0.86 0.2,0.8 C0.12,0.72 0.12,0.58 0.16,0.42 C0.17,0.3 0.23,0.22 0.37,0.18 C0.37,0.1 0.4,0.05 0.5,0.05 Z" fill="url(#mb)"/>
<clipPath id="mc29"><path transform="translate(315.89,343.73) scale(20.720,40.040)" d="M0.5,0.05 C0.6,0.05 0.63,0.1 0.63,0.18 C0.77,0.22 0.83,0.3 0.84,0.42 C0.88,0.58 0.88,0.72 0.8,0.8 C0.66,0.86 0.34,0.86 0.2,0.8 C0.12,0.72 0.12,0.58 0.16,0.42 C0.17,0.3 0.23,0.22 0.37,0.18 C0.37,0.1 0.4,0.05 0.5,0.05 Z"/></clipPath>
<g clip-path="url(#mc29)">
<ellipse cx="326.25" cy="350.27" rx="2.22" ry="1.93" fill="#5508f6"/>
<ellipse cx="323.48" cy="354.12" rx="1.48" ry="1.54" fill="#5508f6"/>
<ellipse cx="327.18" cy="359.13" rx="1.48" ry="1.93" fill="#5508f6"/>
<ellipse cx="320.70" cy="372.22" rx="1.85" ry="1.93" fill="#5508f6"/>
<ellipse cx="333.28" cy="371.45" rx="1.48" ry="1.93" fill="#5508f6"/>
</g>
<rect x="338.95" y="344.95" width="18.60" height="37.60" fill="#424242" stroke="#282828" stroke-width="0.9"/>
<line x1="348.25" y1="375.3" x2="348.25" y2="382.4" stroke="#a0a0a0" stroke-width="1.1"/>
<line x1="343.765" y1="374.53" x2="340.84" y2="377.995" stroke="#b4b4b4" stroke-width="1.1"/>
<line x1="352.735" y1="374.53" x2="355.66" y2="377.995" stroke="#b4b4b4" stroke-width="1.1"/>
<path transform="translate(338.50,344.50) scale(19.500,38.500)" d="M0.5,0.05 C0.6,0.05 0.63,0.1 0.63,0.18 C0.77,0.22 0.83,0.3 0.84,0.42 C0.88,0.58 0.88,0.72 0.8,0.8 C0.66,0.86 0.34,0.86 0.2,0.8 C0.12,0.72 0.12,0.58 0.16,0.42 C0.17,0.3 0.23,0.22 0.37,0.18 C0.37,0.1 0.4,0.05 0.5,0.05 Z" fill="url(#mb)"/>
<clipPath id="mc30"><path transform="translate(337.33,343.73) scale(21.840,40.040)" d="M0.5,0.05 C0.6,0.05 0.63,0.1 0.63,0.18 C0.77,0.22 0.83,0.3 0.84,0.42 C0.88,0.58 0.88,0.72 0.8,0.8 C0.66,0.86 0.34,0.86 0.2,0.8 C0.12,0.72 0.12,0.58 0.16,0.42 C0.17,0.3 0.23,0.22 0.37,0.18 C0.37,0.1 0.4,0.05 0.5,0.05 Z"/></clipPath>
<g clip-path="url(#mc30)">
<ellipse cx="348.25" cy="356.05" rx="7.02" ry="5.77" fill="#5508f6"/>
<ellipse cx="348.25" cy="350.27" rx="2.34" ry="1.93" fill="#5508f6"/>
<ellipse cx="349.23" cy="371.45" rx="7.41" ry="3.85" fill="#5508f6"/>
</g>
<rect x="361.45" y="344.95" width="20.10" height="37.60" fill="#424242" stroke="#282828" stroke-width="0.9"/>
<line x1="371.5" y1="375.3" x2="371.5" y2="382.4" stroke="#a0a0a0" stroke-width="1.1"/>
<line x1="366.67" y1="374.53" x2="363.52" y2="377.995" stroke="#b4b4b4" stroke-width="1.1"/>
<line x1="376.33" y1="374.53" x2="379.48" y2="377.995" stroke="#b4b4b4" stroke-width="1.1"/>
<path transform="translate(361.00,344.50) scale(21.000,38.500)" d="M0.5,0.05 C0.6,0.05 0.63,0.1 0.63,0.18 C0.77,0.22 0.83,0.3 0.84,0.42 C0.88,0.58 0.88,0.72 0.8,0.8 C0.66,0.86 0.34,0.86 0.2,0.8 C0.12,0.72 0.12,0.58 0.16,0.42 C0.17,0.3 0.23,0.22 0.37,0.18 C0.37,0.1 0.4,0.05 0.5,0.05 Z" fill="url(#mb)"/>
<clipPath id="mc31"><path transform="translate(359.74,343.73) scale(23.520,40.040)" d="M0.5,0.05 C0.6,0.05 0.63,0.1 0.63,0.18 C0.77,0.22 0.83,0.3 0.84,0.42 C0.88,0.58 0.88,0.72 0.8,0.8 C0.66,0.86 0.34,0.86 0.2,0.8 C0.12,0.72 0.12,0.58 0.16,0.42 C0.17,0.3 0.23,0.22 0.37,0.18 C0.37,0.1 0.4,0.05 0.5,0.05 Z"/></clipPath>
<g clip-path="url(#mc31)">
<ellipse cx="371.50" cy="350.27" rx="2.52" ry="2.31" fill="#5508f6"/>
<ellipse cx="371.50" cy="356.05" rx="6.30" ry="3.85" fill="#5508f6"/>
<ellipse cx="373.60" cy="361.82" rx="1.68" ry="1.93" fill="#5508f6"/>
<ellipse cx="366.25" cy="370.68" rx="3.36" ry="3.08" fill="#5508f6"/>
<ellipse cx="376.75" cy="372.22" rx="3.36" ry="3.46" fill="#5508f6"/>
</g>
<rect x="386.45" y="344.95" width="18.10" height="37.60" fill="#424242" stroke="#282828" stroke-width="0.9"/>
<line x1="395.5" y1="375.3" x2="395.5" y2="382.4" stroke="#a0a0a0" stroke-width="1.1"/>
<line x1="391.13" y1="374.53" x2="388.28" y2="377.995" stroke="#b4b4b4" stroke-width="1.1"/>
<line x1="399.87" y1="374.53" x2="402.72" y2="377.995" stroke="#b4b4b4" stroke-width="1.1"/>
<path transform="translate(386.00,344.50) scale(19.000,38.500)" d="M0.5,0.05 C0.6,0.05 0.63,0.1 0.63,0.18 C0.77,0.22 0.83,0.3 0.84,0.42 C0.88,0.58 0.88,0.72 0.8,0.8 C0.66,0.86 0.34,0.86 0.2,0.8 C0.12,0.72 0.12,0.58 0.16,0.42 C0.17,0.3 0.23,0.22 0.37,0.18 C0.37,0.1 0.4,0.05 0.5,0.05 Z" fill="url(#mb)"/>
<clipPath id="mc32"><path transform="translate(384.86,343.73) scale(21.280,40.040)" d="M0.5,0.05 C0.6,0.05 0.63,0.1 0.63,0.18 C0.77,0.22 0.83,0.3 0.84,0.42 C0.88,0.58 0.88,0.72 0.8,0.8 C0.66,0.86 0.34,0.86 0.2,0.8 C0.12,0.72 0.12,0.58 0.16,0.42 C0.17,0.3 0.23,0.22 0.37,0.18 C0.37,0.1 0.4,0.05 0.5,0.05 Z"/></clipPath>
<g clip-path="url(#mc32)">
<ellipse cx="395.50" cy="356.05" rx="3.80" ry="3.85" fill="#5508f6"/>
<ellipse cx="387.90" cy="367.60" rx="1.52" ry="3.08" fill="#5508f6"/>
<ellipse cx="391.70" cy="368.75" rx="2.28" ry="3.08" fill="#5508f6"/>
<ellipse cx="399.68" cy="369.52" rx="2.85" ry="3.85" fill="#5508f6"/>
</g>
<rect x="317.45" y="386.95" width="17.60" height="35.60" fill="#424242" stroke="#282828" stroke-width="0.9"/>
<line x1="326.25" y1="415.7" x2="326.25" y2="422.4" stroke="#a0a0a0" stroke-width="1.1"/>
<line x1="321.995" y1="414.97" x2="319.22" y2="418.255" stroke="#b4b4b4" stroke-width="1.1"/>
<line x1="330.505" y1="414.97" x2="333.28" y2="418.255" stroke="#b4b4b4" stroke-width="1.1"/>
<path transform="translate(317.00,386.50) scale(18.500,36.500)" d="M0.5,0.05 C0.6,0.05 0.63,0.1 0.63,0.18 C0.77,0.22 0.83,0.3 0.84,0.42 C0.88,0.58 0.88,0.72 0.8,0.8 C0.66,0.86 0.34,0.86 0.2,0.8 C0.12,0.72 0.12,0.58 0.16,0.42 C0.17,0.3 0.23,0.22 0.37,0.18 C0.37,0.1 0.4,0.05 0.5,0.05 Z" fill="url(#mb)"/>
<clipPath id="mc33"><path transform="translate(315.89,385.77) scale(20.720,37.960)" d="M0.5,0.05 C0.6,0.05 0.63,0.1 0.63,0.18 C0.77,0.22 0.83,0.3 0.84,0.42 C0.88,0.58 0.88,0.72 0.8,0.8 C0.66,0.86 0.34,0.86 0.2,0.8 C0.12,0.72 0.12,0.58 0.16,0.42 C0.17,0.3 0.23,0.22 0.37,0.18 C0.37,0.1 0.4,0.05 0.5,0.05 Z"/></clipPath>
<g clip-path="url(#mc33)">
<ellipse cx="326.25" cy="394.53" rx="3.15" ry="3.65" fill="#5508f6"/>
<ellipse cx="330.88" cy="399.27" rx="1.48" ry="1.83" fill="#5508f6"/>
<ellipse cx="322.55" cy="412.78" rx="1.85" ry="1.83" fill="#5508f6"/>
<ellipse cx="332.73" cy="412.78" rx="1.48" ry="1.83" fill="#5508f6"/>
</g>
<rect x="338.95" y="386.95" width="18.60" height="35.60" fill="#424242" stroke="#282828" stroke-width="0.9"/>
<line x1="348.25" y1="415.7" x2="348.25" y2="422.4" stroke="#a0a0a0" stroke-width="1.1"/>
<line x1="343.765" y1="414.97" x2="340.84" y2="418.255" stroke="#b4b4b4" stroke-width="1.1"/>
<line x1="352.735" y1="414.97" x2="355.66" y2="418.255" stroke="#b4b4b4" stroke-width="1.1"/>
<path transform="translate(338.50,386.50) scale(19.500,36.500)" d="M0.5,0.05 C0.6,0.05 0.63,0.1 0.63,0.18 C0.77,0.22 0.83,0.3 0.84,0.42 C0.88,0.58 0.88,0.72 0.8,0.8 C0.66,0.86 0.34,0.86 0.2,0.8 C0.12,0.72 0.12,0.58 0.16,0.42 C0.17,0.3 0.23,0.22 0.37,0.18 C0.37,0.1 0.4,0.05 0.5,0.05 Z" fill="url(#mb)"/>
<clipPath id="mc34"><path transform="translate(337.33,385.77) scale(21.840,37.960)" d="M0.5,0.05 C0.6,0.05 0.63,0.1 0.63,0.18 C0.77,0.22 0.83,0.3 0.84,0.42 C0.88,0.58 0.88,0.72 0.8,0.8 C0.66,0.86 0.34,0.86 0.2,0.8 C0.12,0.72 0.12,0.58 0.16,0.42 C0.17,0.3 0.23,0.22 0.37,0.18 C0.37,0.1 0.4,0.05 0.5,0.05 Z"/></clipPath>
<g clip-path="url(#mc34)">
<ellipse cx="348.25" cy="397.45" rx="5.85" ry="6.21" fill="#5508f6"/>
<ellipse cx="348.25" cy="390.88" rx="1.95" ry="1.83" fill="#5508f6"/>
<ellipse cx="348.25" cy="413.88" rx="8.19" ry="4.75" fill="#5508f6"/>
</g>
<rect x="361.45" y="386.95" width="20.10" height="35.60" fill="#424242" stroke="#282828" stroke-width="0.9"/>
<line x1="371.5" y1="415.7" x2="371.5" y2="422.4" stroke="#a0a0a0" stroke-width="1.1"/>
<line x1="366.67" y1="414.97" x2="363.52" y2="418.255" stroke="#b4b4b4" stroke-width="1.1"/>
<line x1="376.33" y1="414.97" x2="379.48" y2="418.255" stroke="#b4b4b4" stroke-width="1.1"/>
<path transform="translate(361.00,386.50) scale(21.000,36.500)" d="M0.5,0.05 C0.6,0.05 0.63,0.1 0.63,0.18 C0.77,0.22 0.83,0.3 0.84,0.42 C0.88,0.58 0.88,0.72 0.8,0.8 C0.66,0.86 0.34,0.86 0.2,0.8 C0.12,0.72 0.12,0.58 0.16,0.42 C0.17,0.3 0.23,0.22 0.37,0.18 C0.37,0.1 0.4,0.05 0.5,0.05 Z" fill="url(#mb)"/>
<clipPath id="mc35"><path transform="translate(359.74,385.77) scale(23.520,37.960)" d="M0.5,0.05 C0.6,0.05 0.63,0.1 0.63,0.18 C0.77,0.22 0.83,0.3 0.84,0.42 C0.88,0.58 0.88,0.72 0.8,0.8 C0.66,0.86 0.34,0.86 0.2,0.8 C0.12,0.72 0.12,0.58 0.16,0.42 C0.17,0.3 0.23,0.22 0.37,0.18 C0.37,0.1 0.4,0.05 0.5,0.05 Z"/></clipPath>
<g clip-path="url(#mc35)">
<ellipse cx="370.45" cy="395.62" rx="5.25" ry="3.65" fill="#5508f6"/>
<ellipse cx="372.55" cy="402.93" rx="5.25" ry="2.92" fill="#5508f6"/>
<ellipse cx="369.40" cy="412.05" rx="6.30" ry="4.38" fill="#5508f6"/>
<ellipse cx="366.25" cy="413.88" rx="1.26" ry="1.46" fill="#2a30ff"/>
</g>
<rect x="386.45" y="386.95" width="18.10" height="35.60" fill="#424242" stroke="#282828" stroke-width="0.9"/>
<line x1="395.5" y1="415.7" x2="395.5" y2="422.4" stroke="#a0a0a0" stroke-width="1.1"/>
<line x1="391.13" y1="414.97" x2="388.28" y2="418.255" stroke="#b4b4b4" stroke-width="1.1"/>
<line x1="399.87" y1="414.97" x2="402.72" y2="418.255" stroke="#b4b4b4" stroke-width="1.1"/>
<path transform="translate(386.00,386.50) scale(19.000,36.500)" d="M0.5,0.05 C0.6,0.05 0.63,0.1 0.63,0.18 C0.77,0.22 0.83,0.3 0.84,0.42 C0.88,0.58 0.88,0.72 0.8,0.8 C0.66,0.86 0.34,0.86 0.2,0.8 C0.12,0.72 0.12,0.58 0.16,0.42 C0.17,0.3 0.23,0.22 0.37,0.18 C0.37,0.1 0.4,0.05 0.5,0.05 Z" fill="url(#mb)"/>
<clipPath id="mc36"><path transform="translate(384.86,385.77) scale(21.280,37.960)" d="M0.5,0.05 C0.6,0.05 0.63,0.1 0.63,0.18 C0.77,0.22 0.83,0.3 0.84,0.42 C0.88,0.58 0.88,0.72 0.8,0.8 C0.66,0.86 0.34,0.86 0.2,0.8 C0.12,0.72 0.12,0.58 0.16,0.42 C0.17,0.3 0.23,0.22 0.37,0.18 C0.37,0.1 0.4,0.05 0.5,0.05 Z"/></clipPath>
<g clip-path="url(#mc36)">
<ellipse cx="395.50" cy="399.27" rx="5.70" ry="4.38" fill="#5508f6"/>
<ellipse cx="395.50" cy="412.78" rx="7.22" ry="4.38" fill="#5508f6"/>
</g>
<rect x="317.45" y="426.45" width="17.60" height="41.10" fill="#424242" stroke="#282828" stroke-width="0.9"/>
<line x1="326.25" y1="459.6" x2="326.25" y2="467.4" stroke="#a0a0a0" stroke-width="1.1"/>
<line x1="321.995" y1="458.76" x2="319.22" y2="462.54" stroke="#b4b4b4" stroke-width="1.1"/>
<line x1="330.505" y1="458.76" x2="333.28" y2="462.54" stroke="#b4b4b4" stroke-width="1.1"/>
<path transform="translate(317.00,426.00) scale(18.500,42.000)" d="M0.5,0.05 C0.6,0.05 0.63,0.1 0.63,0.18 C0.77,0.22 0.83,0.3 0.84,0.42 C0.88,0.58 0.88,0.72 0.8,0.8 C0.66,0.86 0.34,0.86 0.2,0.8 C0.12,0.72 0.12,0.58 0.16,0.42 C0.17,0.3 0.23,0.22 0.37,0.18 C0.37,0.1 0.4,0.05 0.5,0.05 Z" fill="url(#mb)"/>
<clipPath id="mc37"><path transform="translate(315.89,425.16) scale(20.720,43.680)" d="M0.5,0.05 C0.6,0.05 0.63,0.1 0.63,0.18 C0.77,0.22 0.83,0.3 0.84,0.42 C0.88,0.58 0.88,0.72 0.8,0.8 C0.66,0.86 0.34,0.86 0.2,0.8 C0.12,0.72 0.12,0.58 0.16,0.42 C0.17,0.3 0.23,0.22 0.37,0.18 C0.37,0.1 0.4,0.05 0.5,0.05 Z"/></clipPath>
<g clip-path="url(#mc37)">
<ellipse cx="326.25" cy="432.30" rx="2.77" ry="3.78" fill="#5508f6"/>
<ellipse cx="326.25" cy="438.60" rx="1.85" ry="2.52" fill="#5508f6"/>
<ellipse cx="330.88" cy="442.80" rx="1.48" ry="2.10" fill="#5508f6"/>
<ellipse cx="320.70" cy="458.76" rx="1.48" ry="2.10" fill="#5508f6"/>
<ellipse cx="332.73" cy="458.76" rx="1.48" ry="2.10" fill="#5508f6"/>
<ellipse cx="326.25" cy="432.30" rx="1.11" ry="1.68" fill="#38d8ff"/>
</g>
<rect x="338.95" y="426.45" width="18.60" height="41.10" fill="#424242" stroke="#282828" stroke-width="0.9"/>
<line x1="348.25" y1="459.6" x2="348.25" y2="467.4" stroke="#a0a0a0" stroke-width="1.1"/>
<line x1="343.765" y1="458.76" x2="340.84" y2="462.54" stroke="#b4b4b4" stroke-width="1.1"/>
<line x1="352.735" y1="458.76" x2="355.66" y2="462.54" stroke="#b4b4b4" stroke-width="1.1"/>
<path transform="translate(338.50,426.00) scale(19.500,42.000)" d="M0.5,0.05 C0.6,0.05 0.63,0.1 0.63,0.18 C0.77,0.22 0.83,0.3 0.84,0.42 C0.88,0.58 0.88,0.72 0.8,0.8 C0.66,0.86 0.34,0.86 0.2,0.8 C0.12,0.72 0.12,0.58 0.16,0.42 C0.17,0.3 0.23,0.22 0.37,0.18 C0.37,0.1 0.4,0.05 0.5,0.05 Z" fill="url(#mb)"/>
<clipPath id="mc38"><path transform="translate(337.33,425.16) scale(21.840,43.680)" d="M0.5,0.05 C0.6,0.05 0.63,0.1 0.63,0.18 C0.77,0.22 0.83,0.3 0.84,0.42 C0.88,0.58 0.88,0.72 0.8,0.8 C0.66,0.86 0.34,0.86 0.2,0.8 C0.12,0.72 0.12,0.58 0.16,0.42 C0.17,0.3 0.23,0.22 0.37,0.18 C0.37,0.1 0.4,0.05 0.5,0.05 Z"/></clipPath>
<g clip-path="url(#mc38)">
<ellipse cx="349.23" cy="438.60" rx="5.85" ry="7.14" fill="#5508f6"/>
<ellipse cx="348.25" cy="447.00" rx="2.92" ry="2.10" fill="#5508f6"/>
</g>
<rect x="361.45" y="426.45" width="20.10" height="41.10" fill="#424242" stroke="#282828" stroke-width="0.9"/>
<line x1="371.5" y1="459.6" x2="371.5" y2="467.4" stroke="#a0a0a0" stroke-width="1.1"/>
<line x1="366.67" y1="458.76" x2="363.52" y2="462.54" stroke="#b4b4b4" stroke-width="1.1"/>
<line x1="376.33" y1="458.76" x2="379.48" y2="462.54" stroke="#b4b4b4" stroke-width="1.1"/>
<path transform="translate(361.00,426.00) scale(21.000,42.000)" d="M0.5,0.05 C0.6,0.05 0.63,0.1 0.63,0.18 C0.77,0.22 0.83,0.3 0.84,0.42 C0.88,0.58 0.88,0.72 0.8,0.8 C0.66,0.86 0.34,0.86 0.2,0.8 C0.12,0.72 0.12,0.58 0.16,0.42 C0.17,0.3 0.23,0.22 0.37,0.18 C0.37,0.1 0.4,0.05 0.5,0.05 Z" fill="url(#mb)"/>
<clipPath id="mc39"><path transform="translate(359.74,425.16) scale(23.520,43.680)" d="M0.5,0.05 C0.6,0.05 0.63,0.1 0.63,0.18 C0.77,0.22 0.83,0.3 0.84,0.42 C0.88,0.58 0.88,0.72 0.8,0.8 C0.66,0.86 0.34,0.86 0.2,0.8 C0.12,0.72 0.12,0.58 0.16,0.42 C0.17,0.3 0.23,0.22 0.37,0.18 C0.37,0.1 0.4,0.05 0.5,0.05 Z"/></clipPath>
<g clip-path="url(#mc39)">
<ellipse cx="371.50" cy="447.00" rx="9.66" ry="19.32" fill="#5508f6"/>
<ellipse cx="370.45" cy="431.04" rx="1.47" ry="1.68" fill="#38d8ff"/>
<ellipse cx="373.60" cy="438.60" rx="1.26" ry="1.26" fill="#38d8ff"/>
<ellipse cx="366.25" cy="457.50" rx="1.26" ry="1.68" fill="#38d8ff"/>
<ellipse cx="377.80" cy="457.50" rx="1.26" ry="1.68" fill="#38d8ff"/>
<ellipse cx="371.50" cy="447.00" rx="4.20" ry="6.30" fill="#2a30ff"/>
</g>
<line x1="240.5" y1="297" x2="240.5" y2="341" stroke="#e0e0e0" stroke-width="1.0"/>
<line x1="191.5" y1="297.3" x2="208.5" y2="297.3" stroke="#2626e0" stroke-width="1.3"/>
<line x1="270.5" y1="297.3" x2="286" y2="297.3" stroke="#2626e0" stroke-width="1.3"/>
<polyline points="386,297.3 405,297.3 405,341" fill="none" stroke="#2626e0" stroke-width="1.3"/>
<line x1="245.5" y1="427" x2="267" y2="427" stroke="#e6e6e6" stroke-width="1.0"/>
<text transform="translate(76.2,275.6) scale(0.925,1.0)" font-size="11.4" text-anchor="end" fill="#080808" stroke="#080808" stroke-width="0.28">SMAD1</text>
<text transform="translate(78.0,287.7) scale(0.925,1.0)" font-size="11.4" text-anchor="end" fill="#080808" stroke="#080808" stroke-width="0.28">mg/kg DAC</text>
<text transform="translate(111,269.8) scale(0.925,1.0)" font-size="11.4" text-anchor="middle" fill="#080808" stroke="#080808" stroke-width="0.28">WT</text>
<text transform="translate(110.6,284.6) scale(0.925,1.0)" font-size="11.4" text-anchor="middle" fill="#080808" stroke="#080808" stroke-width="0.28">0</text>
<text transform="translate(181,269.8) scale(0.925,1.0)" font-size="11.4" text-anchor="middle" fill="#080808" stroke="#080808" stroke-width="0.28">KO</text>
<text transform="translate(180.6,284.6) scale(0.925,1.0)" font-size="11.4" text-anchor="middle" fill="#080808" stroke="#080808" stroke-width="0.28">0</text>
<text transform="translate(269.9,269.8) scale(0.925,1.0)" font-size="11.4" text-anchor="middle" fill="#080808" stroke="#080808" stroke-width="0.28">WT</text>
<text transform="translate(269.6,284.6) scale(0.925,1.0)" font-size="11.4" text-anchor="middle" fill="#080808" stroke="#080808" stroke-width="0.28">0.25</text>
<text transform="translate(357.1,275.2) scale(0.925,1.0)" font-size="11.4" text-anchor="middle" fill="#080808" stroke="#080808" stroke-width="0.28">KO</text>
<text transform="translate(357.2,289.5) scale(0.925,1.0)" font-size="11.4" text-anchor="middle" fill="#080808" stroke="#080808" stroke-width="0.28">0.25</text>
<polygon points="110.50,290.90 111.08,292.30 112.59,292.42 111.44,293.41 111.79,294.88 110.50,294.09 109.21,294.88 109.56,293.41 108.41,292.42 109.92,292.30" fill="#aa0c30"/>
<polygon points="129.80,290.90 130.38,292.30 131.89,292.42 130.74,293.41 131.09,294.88 129.80,294.09 128.51,294.88 128.86,293.41 127.71,292.42 129.22,292.30" fill="#aa0c30"/>
<polygon points="181.00,290.90 181.58,292.30 183.09,292.42 181.94,293.41 182.29,294.88 181.00,294.09 179.71,294.88 180.06,293.41 178.91,292.42 180.42,292.30" fill="#aa0c30"/>
<polygon points="199.00,290.90 199.58,292.30 201.09,292.42 199.94,293.41 200.29,294.88 199.00,294.09 197.71,294.88 198.06,293.41 196.91,292.42 198.42,292.30" fill="#aa0c30"/>
<polygon points="278.30,290.90 278.88,292.30 280.39,292.42 279.24,293.41 279.59,294.88 278.30,294.09 277.01,294.88 277.36,293.41 276.21,292.42 277.72,292.30" fill="#aa0c30"/>
<polygon points="298.00,290.90 298.58,292.30 300.09,292.42 298.94,293.41 299.29,294.88 298.00,294.09 296.71,294.88 297.06,293.41 295.91,292.42 297.42,292.30" fill="#aa0c30"/>
<polygon points="395.00,290.90 395.58,292.30 397.09,292.42 395.94,293.41 396.29,294.88 395.00,294.09 393.71,294.88 394.06,293.41 392.91,292.42 394.42,292.30" fill="#aa0c30"/>
<polygon points="485.70,290.90 486.28,292.30 487.79,292.42 486.64,293.41 486.99,294.88 485.70,294.09 484.41,294.88 484.76,293.41 483.61,292.42 485.12,292.30" fill="#aa0c30"/>
<text transform="translate(32.5,318.8) scale(0.925,1.0)" font-size="11.4" text-anchor="start" fill="#080808" stroke="#080808" stroke-width="0.28">week 2</text>
<text transform="translate(32.5,345) scale(0.925,1.0)" font-size="11.4" text-anchor="start" fill="#080808" stroke="#080808" stroke-width="0.28">start</text>
<line x1="57" y1="342" x2="70" y2="342" stroke="#080808" stroke-width="1.3"/>
<polygon points="69,338.8 76.6,342 69,345.2" fill="#080808"/>
<text transform="translate(32.5,367.5) scale(0.925,1.0)" font-size="11.4" text-anchor="start" fill="#080808" stroke="#080808" stroke-width="0.28">week 3</text>
<text transform="translate(32.5,409.5) scale(0.925,1.0)" font-size="11.4" text-anchor="start" fill="#080808" stroke="#080808" stroke-width="0.28">week 4</text>
<text transform="translate(32.5,448.8) scale(0.925,1.0)" font-size="11.4" text-anchor="start" fill="#080808" stroke="#080808" stroke-width="0.28">week 5</text>
<defs><linearGradient id="cb" x1="0" y1="0" x2="0" y2="1"><stop offset="0" stop-color="#b00000"/><stop offset="0.08" stop-color="#f03000"/><stop offset="0.16" stop-color="#ff9a00"/><stop offset="0.24" stop-color="#f6f600"/><stop offset="0.36" stop-color="#a8f000"/><stop offset="0.46" stop-color="#30e030"/><stop offset="0.6" stop-color="#30f0c0"/><stop offset="0.72" stop-color="#40d8ff"/><stop offset="0.8" stop-color="#2080ff"/><stop offset="0.9" stop-color="#1010f0"/><stop offset="1" stop-color="#7010f0"/></linearGradient></defs>
<rect x="416.4" y="298.8" width="6.60" height="156.10" fill="url(#cb)" stroke="#222" stroke-width="0.7"/>
<line x1="423.0" y1="302.14" x2="424.8" y2="302.14" stroke="#222" stroke-width="0.7"/>
<line x1="423.0" y1="310.65999999999997" x2="424.8" y2="310.65999999999997" stroke="#222" stroke-width="0.7"/>
<line x1="423.0" y1="319.17999999999995" x2="424.8" y2="319.17999999999995" stroke="#222" stroke-width="0.7"/>
<line x1="423.0" y1="327.69999999999993" x2="426.0" y2="327.69999999999993" stroke="#222" stroke-width="0.7"/>
<line x1="423.0" y1="336.2199999999999" x2="424.8" y2="336.2199999999999" stroke="#222" stroke-width="0.7"/>
<line x1="423.0" y1="344.7399999999999" x2="424.8" y2="344.7399999999999" stroke="#222" stroke-width="0.7"/>
<line x1="423.0" y1="353.2599999999999" x2="424.8" y2="353.2599999999999" stroke="#222" stroke-width="0.7"/>
<line x1="423.0" y1="361.77999999999986" x2="424.8" y2="361.77999999999986" stroke="#222" stroke-width="0.7"/>
<line x1="423.0" y1="370.29999999999984" x2="426.0" y2="370.29999999999984" stroke="#222" stroke-width="0.7"/>
<line x1="423.0" y1="378.8199999999998" x2="424.8" y2="378.8199999999998" stroke="#222" stroke-width="0.7"/>
<line x1="423.0" y1="387.3399999999998" x2="424.8" y2="387.3399999999998" stroke="#222" stroke-width="0.7"/>
<line x1="423.0" y1="395.8599999999998" x2="424.8" y2="395.8599999999998" stroke="#222" stroke-width="0.7"/>
<line x1="423.0" y1="404.37999999999977" x2="424.8" y2="404.37999999999977" stroke="#222" stroke-width="0.7"/>
<line x1="423.0" y1="412.89999999999975" x2="426.0" y2="412.89999999999975" stroke="#222" stroke-width="0.7"/>
<line x1="423.0" y1="421.41999999999973" x2="424.8" y2="421.41999999999973" stroke="#222" stroke-width="0.7"/>
<line x1="423.0" y1="429.9399999999997" x2="424.8" y2="429.9399999999997" stroke="#222" stroke-width="0.7"/>
<line x1="423.0" y1="438.4599999999997" x2="424.8" y2="438.4599999999997" stroke="#222" stroke-width="0.7"/>
<line x1="423.0" y1="446.9799999999997" x2="424.8" y2="446.9799999999997" stroke="#222" stroke-width="0.7"/>
<text x="428.4" y="331.2" font-size="9.5" text-anchor="start" fill="#080808" stroke="#080808" stroke-width="0.28">3.0</text>
<text x="428.4" y="373.8" font-size="9.5" text-anchor="start" fill="#080808" stroke="#080808" stroke-width="0.28">2.0</text>
<text x="428.4" y="416.4" font-size="9.5" text-anchor="start" fill="#080808" stroke="#080808" stroke-width="0.28">1.0</text>
<rect x="467.4" y="300.6" width="6.60" height="154.30" fill="url(#cb)" stroke="#222" stroke-width="0.7"/>
<line x1="474.0" y1="304.14" x2="475.8" y2="304.14" stroke="#222" stroke-width="0.7"/>
<line x1="474.0" y1="311.97999999999996" x2="475.8" y2="311.97999999999996" stroke="#222" stroke-width="0.7"/>
<line x1="474.0" y1="319.81999999999994" x2="475.8" y2="319.81999999999994" stroke="#222" stroke-width="0.7"/>
<line x1="474.0" y1="327.6599999999999" x2="475.8" y2="327.6599999999999" stroke="#222" stroke-width="0.7"/>
<line x1="474.0" y1="335.4999999999999" x2="477.0" y2="335.4999999999999" stroke="#222" stroke-width="0.7"/>
<line x1="474.0" y1="343.33999999999986" x2="475.8" y2="343.33999999999986" stroke="#222" stroke-width="0.7"/>
<line x1="474.0" y1="351.17999999999984" x2="475.8" y2="351.17999999999984" stroke="#222" stroke-width="0.7"/>
<line x1="474.0" y1="359.0199999999998" x2="475.8" y2="359.0199999999998" stroke="#222" stroke-width="0.7"/>
<line x1="474.0" y1="366.8599999999998" x2="475.8" y2="366.8599999999998" stroke="#222" stroke-width="0.7"/>
<line x1="474.0" y1="374.69999999999976" x2="475.8" y2="374.69999999999976" stroke="#222" stroke-width="0.7"/>
<line x1="474.0" y1="382.53999999999974" x2="475.8" y2="382.53999999999974" stroke="#222" stroke-width="0.7"/>
<line x1="474.0" y1="390.3799999999997" x2="475.8" y2="390.3799999999997" stroke="#222" stroke-width="0.7"/>
<line x1="474.0" y1="398.2199999999997" x2="475.8" y2="398.2199999999997" stroke="#222" stroke-width="0.7"/>
<line x1="474.0" y1="406.05999999999966" x2="475.8" y2="406.05999999999966" stroke="#222" stroke-width="0.7"/>
<line x1="474.0" y1="413.89999999999964" x2="475.8" y2="413.89999999999964" stroke="#222" stroke-width="0.7"/>
<line x1="474.0" y1="421.7399999999996" x2="475.8" y2="421.7399999999996" stroke="#222" stroke-width="0.7"/>
<line x1="474.0" y1="429.5799999999996" x2="475.8" y2="429.5799999999996" stroke="#222" stroke-width="0.7"/>
<line x1="474.0" y1="437.41999999999956" x2="475.8" y2="437.41999999999956" stroke="#222" stroke-width="0.7"/>
<line x1="474.0" y1="445.25999999999954" x2="475.8" y2="445.25999999999954" stroke="#222" stroke-width="0.7"/>
<line x1="474.0" y1="453.0999999999995" x2="475.8" y2="453.0999999999995" stroke="#222" stroke-width="0.7"/>
<text x="479.2" y="339.0" font-size="9.5" text-anchor="start" fill="#080808" stroke="#080808" stroke-width="0.28">3.0</text>
<text x="479.2" y="379.0" font-size="9.5" text-anchor="start" fill="#080808" stroke="#080808" stroke-width="0.28">2.0</text>
<text x="479.2" y="418.2" font-size="9.5" text-anchor="start" fill="#080808" stroke="#080808" stroke-width="0.28">1.0</text>
<text x="0" y="0" font-size="10.5" text-anchor="start" fill="#080808" stroke="#080808" stroke-width="0.28"></text>
<text transform="translate(444.8,368.2) rotate(90)" font-size="9.2" fill="#080808" stroke="#080808" stroke-width="0.28">×10<tspan font-size="6.5" dy="-3.5">6</tspan></text>
<text transform="translate(496.3,369) rotate(90)" font-size="9.2" fill="#080808" stroke="#080808" stroke-width="0.28">×10<tspan font-size="6.5" dy="-3.5">6</tspan></text>
<text x="445.2" y="468.1" font-size="10.5" text-anchor="middle" fill="#080808" stroke="#080808" stroke-width="0.28">Radiance</text>
<text x="445" y="480.2" font-size="10.5" text-anchor="middle" fill="#080808" stroke="#080808" stroke-width="0.28">(p/sec/cm<tspan font-size="7" dy="-3.5">2</tspan><tspan dy="3.5">/sr)</tspan></text>
<line x1="74.2" y1="573.0" x2="74.2" y2="613.5" stroke="#080808" stroke-width="1.5"/>
<line x1="72.2" y1="573.0" x2="76.2" y2="573.0" stroke="#080808" stroke-width="1.2"/>
<line x1="74.2" y1="525.6" x2="74.2" y2="566.0" stroke="#080808" stroke-width="1.5"/>
<line x1="72.2" y1="566.0" x2="76.2" y2="566.0" stroke="#080808" stroke-width="1.2"/>
<line x1="74.2" y1="609.8" x2="200" y2="609.8" stroke="#080808" stroke-width="1.5"/>
<line x1="70.6" y1="597.6999999999999" x2="74.2" y2="597.6999999999999" stroke="#080808" stroke-width="1.1"/>
<line x1="70.6" y1="585.6" x2="74.2" y2="585.6" stroke="#080808" stroke-width="1.1"/>
<line x1="70.6" y1="573.5" x2="74.2" y2="573.5" stroke="#080808" stroke-width="1.1"/>
<line x1="70.6" y1="609.8" x2="74.2" y2="609.8" stroke="#080808" stroke-width="1.1"/>
<text transform="translate(66.60,613.05) scale(1.12,1)" font-size="10.3" text-anchor="end" fill="#080808" stroke="#080808" stroke-width="0.1">0</text>
<text transform="translate(66.60,600.95) scale(1.12,1)" font-size="10.3" text-anchor="end" fill="#080808" stroke="#080808" stroke-width="0.1">100</text>
<text transform="translate(66.60,588.85) scale(1.12,1)" font-size="10.3" text-anchor="end" fill="#080808" stroke="#080808" stroke-width="0.1">200</text>
<text transform="translate(66.60,576.75) scale(1.12,1)" font-size="10.3" text-anchor="end" fill="#080808" stroke="#080808" stroke-width="0.1">300</text>
<line x1="70.6" y1="559.3" x2="74.2" y2="559.3" stroke="#080808" stroke-width="1.1"/>
<text transform="translate(66.40,562.90) scale(1.12,1)" font-size="10.3" text-anchor="end" fill="#080808" stroke="#080808" stroke-width="0.1">1000</text>
<line x1="70.6" y1="549.3" x2="74.2" y2="549.3" stroke="#080808" stroke-width="1.1"/>
<text transform="translate(66.40,552.90) scale(1.12,1)" font-size="10.3" text-anchor="end" fill="#080808" stroke="#080808" stroke-width="0.1">2000</text>
<line x1="70.6" y1="539.3" x2="74.2" y2="539.3" stroke="#080808" stroke-width="1.1"/>
<text transform="translate(66.40,542.90) scale(1.12,1)" font-size="10.3" text-anchor="end" fill="#080808" stroke="#080808" stroke-width="0.1">3000</text>
<line x1="70.6" y1="529.3" x2="74.2" y2="529.3" stroke="#080808" stroke-width="1.1"/>
<text transform="translate(66.40,532.90) scale(1.12,1)" font-size="10.3" text-anchor="end" fill="#080808" stroke="#080808" stroke-width="0.1">4000</text>
<line x1="74.2" y1="609.8" x2="74.2" y2="613.6" stroke="#080808" stroke-width="1.1"/>
<text transform="translate(74.20,627.89) scale(1.0,1)" font-size="11.0" text-anchor="middle" fill="#080808" stroke="#080808" stroke-width="0.1">0</text>
<line x1="114.8" y1="609.8" x2="114.8" y2="613.6" stroke="#080808" stroke-width="1.1"/>
<text transform="translate(114.80,627.89) scale(1.0,1)" font-size="11.0" text-anchor="middle" fill="#080808" stroke="#080808" stroke-width="0.1">10</text>
<line x1="155.39999999999998" y1="609.8" x2="155.39999999999998" y2="613.6" stroke="#080808" stroke-width="1.1"/>
<text transform="translate(155.40,627.89) scale(1.0,1)" font-size="11.0" text-anchor="middle" fill="#080808" stroke="#080808" stroke-width="0.1">20</text>
<line x1="196.0" y1="609.8" x2="196.0" y2="613.6" stroke="#080808" stroke-width="1.1"/>
<text transform="translate(196.00,627.89) scale(1.0,1)" font-size="11.0" text-anchor="middle" fill="#080808" stroke="#080808" stroke-width="0.1">30</text>
<text x="111.5" y="645.3" font-size="12.2" text-anchor="start" fill="#080808" textLength="52.6" lengthAdjust="spacingAndGlyphs" stroke="#000" stroke-width="0.6">Days elapsed</text>
<text transform="translate(31.7,607.2) rotate(-90)" font-size="11.2" fill="#080808" stroke="#000" stroke-width="0.35" textLength="82.3" lengthAdjust="spacingAndGlyphs">Radiance fold change</text>
<polyline points="74.20,609.80 114.80,609.80 143.22,606.70 171.64,607.20 196.00,609.20" fill="none" stroke="#aa0c30" stroke-width="1.2" stroke-linejoin="round"/>
<circle cx="143.22" cy="606.70" r="1.6" fill="#aa0c30"/>
<circle cx="171.64" cy="607.20" r="1.6" fill="#aa0c30"/>
<circle cx="196.00" cy="609.20" r="1.6" fill="#aa0c30"/>
<line x1="143.22" y1="605.2" x2="143.22" y2="608.2" stroke="#aa0c30" stroke-width="0.9"/>
<line x1="141.42" y1="605.2" x2="145.02" y2="605.2" stroke="#aa0c30" stroke-width="0.9"/>
<line x1="141.42" y1="608.2" x2="145.02" y2="608.2" stroke="#aa0c30" stroke-width="0.9"/>
<polyline points="74.20,609.80 114.80,609.80 143.22,602.40 171.64,601.70 196.00,585.40" fill="none" stroke="#5cab30" stroke-width="1.2" stroke-linejoin="round"/>
<line x1="171.64" y1="599.6" x2="171.64" y2="603.8" stroke="#5cab30" stroke-width="0.9"/>
<line x1="169.64" y1="599.6" x2="173.64" y2="599.6" stroke="#5cab30" stroke-width="0.9"/>
<line x1="169.64" y1="603.8" x2="173.64" y2="603.8" stroke="#5cab30" stroke-width="0.9"/>
<line x1="196.0" y1="576.5" x2="196.0" y2="594.6" stroke="#5cab30" stroke-width="0.9"/>
<line x1="194.0" y1="576.5" x2="198.0" y2="576.5" stroke="#5cab30" stroke-width="0.9"/>
<line x1="194.0" y1="594.6" x2="198.0" y2="594.6" stroke="#5cab30" stroke-width="0.9"/>
<rect x="141.92" y="601.10" width="2.60" height="2.60" fill="#5cab30"/>
<rect x="170.34" y="600.40" width="2.60" height="2.60" fill="#5cab30"/>
<rect x="194.70" y="584.10" width="2.60" height="2.60" fill="#5cab30"/>
<polyline points="74.20,609.80 114.80,609.80 143.22,601.20 164.00,574.60" fill="none" stroke="#424a62" stroke-width="1.2" stroke-linejoin="round"/>
<polyline points="74.20,609.80 114.80,609.80 143.22,599.00 164.90,573.60" fill="none" stroke="#223f84" stroke-width="1.2" stroke-linejoin="round"/>
<line x1="143.22" y1="596.5" x2="143.22" y2="605.0" stroke="#424a62" stroke-width="0.9"/>
<line x1="141.42" y1="596.5" x2="145.02" y2="596.5" stroke="#424a62" stroke-width="0.9"/>
<line x1="141.42" y1="605.0" x2="145.02" y2="605.0" stroke="#424a62" stroke-width="0.9"/>
<line x1="143.22" y1="595.5" x2="143.22" y2="602.5" stroke="#223f84" stroke-width="0.9"/>
<line x1="141.42" y1="595.5" x2="145.02" y2="595.5" stroke="#223f84" stroke-width="0.9"/>
<line x1="141.42" y1="602.5" x2="145.02" y2="602.5" stroke="#223f84" stroke-width="0.9"/>
<circle cx="143.22" cy="601.20" r="1.6" fill="#424a62"/>
<circle cx="143.22" cy="599.00" r="1.6" fill="#223f84"/>
<polyline points="171.64,563.30 196.00,557.00" fill="none" stroke="#424a62" stroke-width="1.2" stroke-linejoin="round"/>
<polyline points="171.64,563.30 196.00,545.20" fill="none" stroke="#223f84" stroke-width="1.2" stroke-linejoin="round"/>
<line x1="171.64" y1="561.0" x2="171.64" y2="565.6" stroke="#424a62" stroke-width="1.0"/>
<line x1="169.64" y1="561.0" x2="173.64" y2="561.0" stroke="#424a62" stroke-width="1.0"/>
<line x1="169.64" y1="565.6" x2="173.64" y2="565.6" stroke="#424a62" stroke-width="1.0"/>
<line x1="196.0" y1="536.0" x2="196.0" y2="554.7" stroke="#223f84" stroke-width="1.0"/>
<line x1="194.0" y1="536.0" x2="198.0" y2="536.0" stroke="#223f84" stroke-width="1.0"/>
<line x1="194.0" y1="554.7" x2="198.0" y2="554.7" stroke="#223f84" stroke-width="1.0"/>
<line x1="196.0" y1="552.7" x2="196.0" y2="562.2" stroke="#424a62" stroke-width="1.0"/>
<line x1="194.0" y1="552.7" x2="198.0" y2="552.7" stroke="#424a62" stroke-width="1.0"/>
<line x1="194.0" y1="562.2" x2="198.0" y2="562.2" stroke="#424a62" stroke-width="1.0"/>
<circle cx="171.64" cy="563.30" r="1.6" fill="#424a62"/>
<circle cx="196.00" cy="557.00" r="1.6" fill="#424a62"/>
<circle cx="196.00" cy="545.20" r="1.3" fill="#223f84"/>
<text transform="translate(172.0,535.2) scale(1.03,1.0)" font-size="9.5" text-anchor="middle" fill="#223f84" stroke="none">0.06</text>
<text transform="translate(172.0,542.7) scale(1.03,1.0)" font-size="9.5" text-anchor="middle" fill="#424a62" stroke="none">0.06</text>
<text transform="translate(171.8,553.3) scale(0.98,1.0)" font-size="9.6" text-anchor="middle" fill="#5cab30" stroke="none">n.s.</text>
<text x="196.0" y="531.1" font-size="9.6" text-anchor="middle" fill="#080808" stroke="none">n.s.</text>
<text x="126.2" y="572.9" font-size="10" text-anchor="start" fill="#080808" stroke="#080808" stroke-width="0.28">start</text>
<line x1="135.2" y1="576.4" x2="135.2" y2="589" stroke="#080808" stroke-width="1.4"/>
<polygon points="131.8,588 138.6,588 135.2,597.3" fill="#080808"/>
<line x1="79" y1="666.4" x2="92.8" y2="666.4" stroke="#424a62" stroke-width="1.5"/>
<circle cx="85.90" cy="666.40" r="2.25" fill="#424a62"/>
<text transform="translate(97.2,669.5) scale(1,1.07)" font-size="10.3" fill="#080808" stroke="#080808" stroke-width="0.28">SMAD1<tspan font-size="5.8" dy="-3.1" dx="0.2">WT</tspan><tspan dy="3.1"> PBS (n=3)</tspan></text>
<line x1="79" y1="683.0" x2="92.8" y2="683.0" stroke="#223f84" stroke-width="1.5"/>
<circle cx="85.90" cy="683.00" r="2.25" fill="#223f84"/>
<text transform="translate(97.2,685.8) scale(1,1.07)" font-size="10.3" fill="#080808" stroke="#080808" stroke-width="0.28">SMAD1<tspan font-size="5.8" dy="-3.1" dx="0.2">KO</tspan><tspan dy="3.1"> PBS (n=3)</tspan></text>
<line x1="208.7" y1="666.4" x2="221.5" y2="666.4" stroke="#aa0c30" stroke-width="1.5"/>
<circle cx="215.10" cy="666.40" r="2.25" fill="#aa0c30"/>
<text transform="translate(225.2,669.5) scale(1,1.07)" font-size="10.3" fill="#080808" stroke="#080808" stroke-width="0.28">SMAD1<tspan font-size="5.8" dy="-3.1" dx="0.2">WT</tspan><tspan dy="3.1"> 0.25 mg/kg DAC (n=4)</tspan></text>
<line x1="208.7" y1="683.0" x2="221.5" y2="683.0" stroke="#5cab30" stroke-width="1.5"/>
<rect x="213.20" y="681.10" width="3.80" height="3.80" fill="#5cab30"/>
<text transform="translate(225.2,685.8) scale(1,1.07)" font-size="10.3" fill="#080808" stroke="#080808" stroke-width="0.28">SMAD1<tspan font-size="5.8" dy="-3.1" dx="0.2">KO</tspan><tspan dy="3.1"> 0.25 mg/kg DAC (n=4)</tspan></text>
<line x1="279.9" y1="529.0" x2="279.9" y2="614.2" stroke="#080808" stroke-width="1.5"/>
<line x1="278" y1="609.9" x2="411.3" y2="609.9" stroke="#080808" stroke-width="1.5"/>
<line x1="276.5" y1="609.9" x2="279.9" y2="609.9" stroke="#080808" stroke-width="1.1"/>
<text transform="translate(271.10,613.35) scale(1.03,1)" font-size="10.3" text-anchor="end" fill="#080808" stroke="#080808" stroke-width="0.1">0</text>
<line x1="276.5" y1="571.4" x2="279.9" y2="571.4" stroke="#080808" stroke-width="1.1"/>
<text transform="translate(271.10,574.85) scale(1.03,1)" font-size="10.3" text-anchor="end" fill="#080808" stroke="#080808" stroke-width="0.1">50</text>
<line x1="276.5" y1="532.9" x2="279.9" y2="532.9" stroke="#080808" stroke-width="1.1"/>
<text transform="translate(271.10,536.35) scale(1.03,1)" font-size="10.3" text-anchor="end" fill="#080808" stroke="#080808" stroke-width="0.1">100</text>
<line x1="279.9" y1="609.9" x2="279.9" y2="614.2" stroke="#080808" stroke-width="1.1"/>
<text transform="translate(279.90,627.89) scale(1.0,1)" font-size="11.0" text-anchor="middle" fill="#080808" stroke="#080808" stroke-width="0.1">0</text>
<line x1="322.29999999999995" y1="609.9" x2="322.29999999999995" y2="614.2" stroke="#080808" stroke-width="1.1"/>
<text transform="translate(322.30,627.89) scale(1.0,1)" font-size="11.0" text-anchor="middle" fill="#080808" stroke="#080808" stroke-width="0.1">10</text>
<line x1="364.7" y1="609.9" x2="364.7" y2="614.2" stroke="#080808" stroke-width="1.1"/>
<text transform="translate(364.70,627.89) scale(1.0,1)" font-size="11.0" text-anchor="middle" fill="#080808" stroke="#080808" stroke-width="0.1">20</text>
<line x1="407.09999999999997" y1="609.9" x2="407.09999999999997" y2="614.2" stroke="#080808" stroke-width="1.1"/>
<text transform="translate(407.10,627.89) scale(1.0,1)" font-size="11.0" text-anchor="middle" fill="#080808" stroke="#080808" stroke-width="0.1">30</text>
<text x="319.5" y="645.3" font-size="12.2" text-anchor="start" fill="#080808" textLength="52.6" lengthAdjust="spacingAndGlyphs" stroke="#000" stroke-width="0.6">Days elapsed</text>
<text transform="translate(245.0,600.3) rotate(-90)" font-size="11.5" fill="#080808" stroke="#000" stroke-width="0.35" textLength="61.6" lengthAdjust="spacingAndGlyphs">Percent healthy</text>
<polyline points="279.90,532.80 377.70,532.80 377.70,558.80 406.90,558.80" fill="none" stroke="#424a62" stroke-width="1.7" stroke-linejoin="round"/>
<polyline points="377.70,532.80 406.90,532.80" fill="none" stroke="#aa0c30" stroke-width="1.9" stroke-linejoin="round"/>
<polyline points="377.70,552.30 394.60,552.30 394.60,571.20 406.90,571.20" fill="none" stroke="#5cab30" stroke-width="1.6" stroke-linejoin="round"/>
<polyline points="390.00,532.80 390.00,583.40 406.90,583.40" fill="none" stroke="#223f84" stroke-width="1.8" stroke-linejoin="round"/>
<line x1="406.7" y1="569.9000000000001" x2="406.7" y2="571.8000000000001" stroke="#080808" stroke-width="1.0"/>
<line x1="406.7" y1="582.1" x2="406.7" y2="584.0" stroke="#080808" stroke-width="1.0"/>
<line x1="394.6" y1="570" x2="394.6" y2="571.8" stroke="#080808" stroke-width="1.0"/>
<line x1="390.2" y1="582" x2="390.2" y2="584" stroke="#080808" stroke-width="1.0"/>
<text x="416.2" y="572.3" font-size="10.5" text-anchor="start" fill="#080808" stroke="#080808" stroke-width="0.28">n.s.</text>
<rect x="0.75" y="0.75" width="518.5" height="696.5" fill="none" stroke="#000" stroke-width="1.5"/>
</svg></body></html>
